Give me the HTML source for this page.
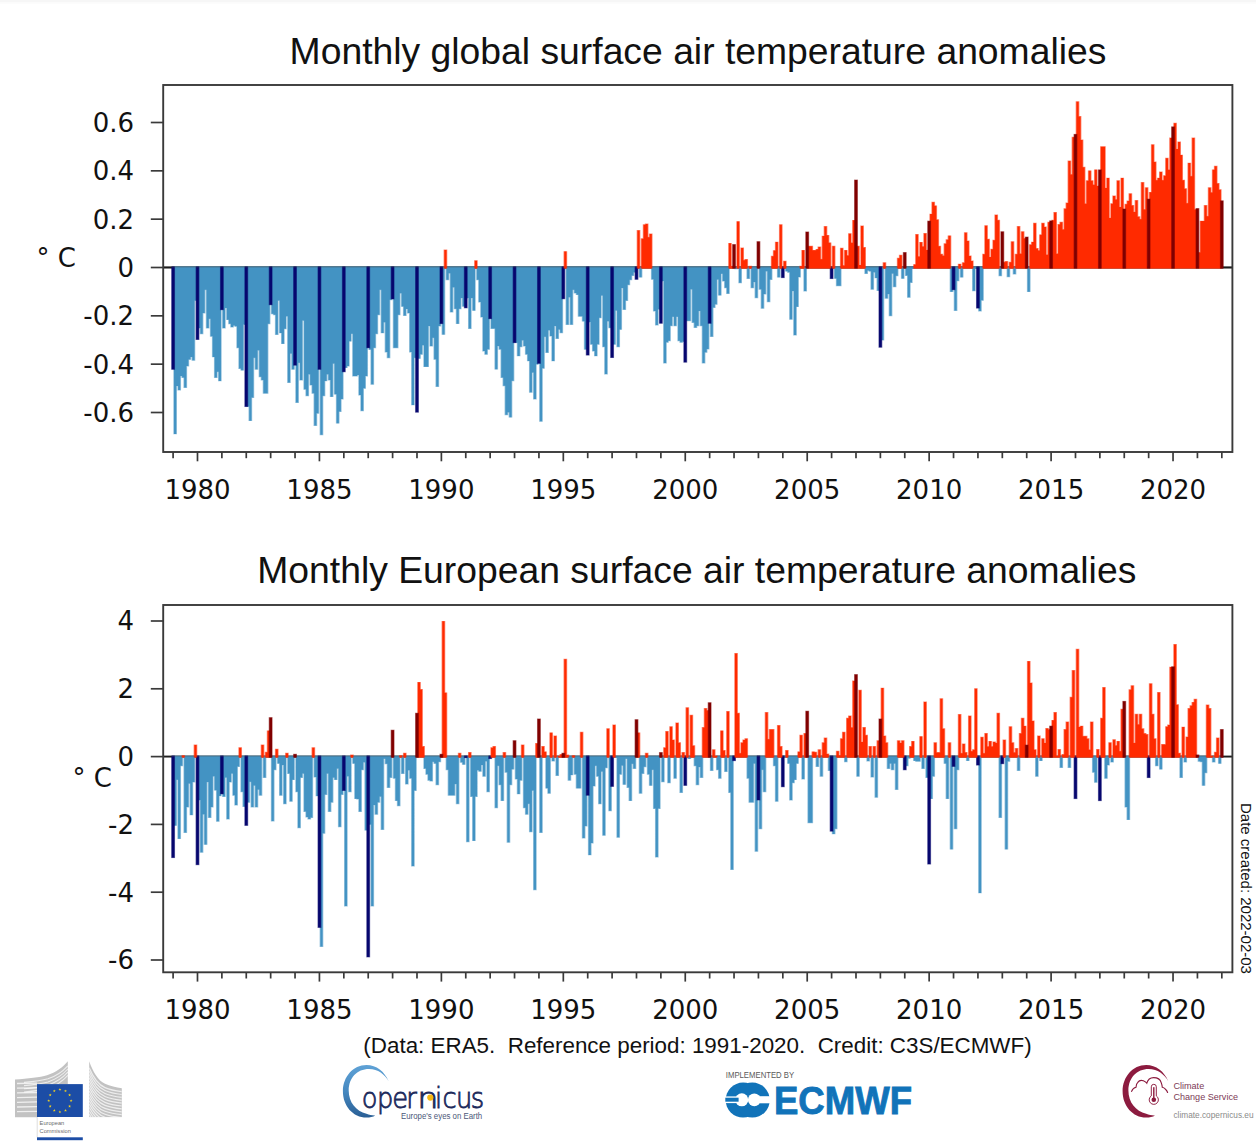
<!DOCTYPE html>
<html><head><meta charset="utf-8"><title>Monthly surface air temperature anomalies</title>
<style>
html,body{margin:0;padding:0;background:#fff}
svg{display:block}
.ax text{font-family:"DejaVu Sans","Liberation Sans",sans-serif;font-size:26px;fill:#111}
.ttl{font-family:"Liberation Sans",sans-serif;font-size:37.3px;fill:#111}
.cap{font-family:"Liberation Sans",sans-serif;font-size:22.4px;fill:#111;white-space:pre}
.deg{font-family:"DejaVu Sans","Liberation Sans",sans-serif;font-size:26px;fill:#111}
</style></head><body>
<svg width="1256" height="1147" viewBox="0 0 1256 1147" shape-rendering="auto">
<rect width="1256" height="1147" fill="#fff"/>
<rect width="1256" height="2.4" fill="#f6f6f6"/><rect y="2.4" width="1256" height="1.2" fill="#fbfbfb"/>
<text class="ttl" x="698" y="63.5" text-anchor="middle" id="t1">Monthly global surface air temperature anomalies</text>
<text class="ttl" x="696.8" y="583" text-anchor="middle" id="t2">Monthly European surface air temperature anomalies</text>
<line x1="163.2" y1="267.5" x2="1232.4" y2="267.5" stroke="#111" stroke-width="1.9"/>
<g fill="#4393c3" opacity="0.55"><path d="M173.28,266.55V434.34H175.31V434.34H176.98V386.33H177.35V390.47H179.01V390.47H179.38V390.47H181.05V376.39H181.41V378.05H183.08V378.05H183.44V387.98H185.11V387.98H185.48V387.98H187.14V366.46H187.51V366.46H189.18V359.84H189.54V359.84H191.21V357.35H191.57V360.66H193.24V360.66H193.61V360.66H195.27V301.06H197.31V266.55ZM197.67,266.55V328.38H199.70V334.17H201.37V334.17H201.74V334.17H203.40V313.48H203.77V313.48H205.44V290.30H205.80V328.38H207.47V328.38H207.83V328.38H209.50V319.27H209.87V336.66H211.53V336.66H211.90V357.35H213.57V357.35H213.93V378.05H215.60V378.05H215.96V378.05H217.63V372.25H218.00V381.36H219.66V381.36H221.70V266.55ZM222.06,266.55V328.38H224.09V328.38H225.76V308.51H226.12V320.10H227.79V320.10H228.16V324.24H229.82V324.24H230.19V327.55H231.86V327.55H232.22V327.55H233.89V325.90H234.25V326.72H235.92V326.72H236.29V348.25H237.95V348.25H238.32V368.94H239.99V368.94H240.35V370.60H242.02V370.60H242.38V370.60H244.05V325.07H246.08V266.55ZM246.45,266.55V407.02H248.48V421.09H250.15V421.09H250.51V421.09H252.18V397.92H252.55V397.92H254.21V358.18H254.58V369.77H256.25V369.77H256.61V369.77H258.28V350.73H258.64V377.22H260.31V377.22H260.68V380.53H262.34V380.53H262.71V393.78H264.38V393.78H264.74V393.78H266.41V393.78H266.77V393.78H268.44V324.24H270.47V266.55ZM270.84,266.55V314.31H272.87V315.14H274.54V315.14H274.90V335.00H276.57V335.00H276.93V335.00H278.60V301.06H278.97V333.35H280.63V333.35H281.00V344.11H282.67V344.11H283.03V344.11H284.70V329.21H285.06V329.21H286.73V316.79H287.10V383.02H288.76V383.02H289.13V383.02H290.80V354.04H291.16V369.77H292.83V369.77H294.86V266.55ZM295.23,266.55V402.88H297.26V402.88H298.93V363.15H299.29V380.53H300.96V380.53H301.32V380.53H302.99V320.93H303.36V389.64H305.02V389.64H305.39V396.26H307.06V396.26H307.42V396.26H309.09V374.74H309.45V385.50H311.12V385.50H311.49V393.78H313.15V393.78H313.52V426.06H315.19V426.06H315.55V426.06H317.22V413.64H319.25V266.55ZM319.62,266.55V435.17H321.65V435.17H323.32V396.26H323.68V396.26H325.35V381.36H325.71V381.36H327.38V374.74H327.74V380.53H329.41V380.53H329.78V397.09H331.44V397.09H331.81V397.09H333.48V363.98H333.84V394.60H335.51V394.60H335.87V423.58H337.54V423.58H337.91V423.58H339.57V411.99H339.94V411.99H341.61V399.57H343.64V266.55ZM344.00,266.55V368.11H346.04V368.11H347.70V366.46H348.07V366.46H349.74V341.62H350.10V341.62H351.77V334.17H352.13V376.39H353.80V376.39H354.17V376.39H355.83V376.39H356.20V376.39H357.87V375.56H358.23V395.43H359.90V395.43H360.26V411.16H361.93V411.16H362.30V411.16H363.96V388.81H364.33V388.81H366.00V376.39H368.03V266.55ZM368.39,266.55V349.90H370.43V384.67H372.09V384.67H372.46V384.67H374.13V348.25H374.49V348.25H376.16V334.17H376.52V334.17H378.19V315.14H378.55V315.14H380.22V290.30H380.59V333.35H382.25V333.35H382.62V333.35H384.29V322.59H384.65V352.39H386.32V352.39H386.68V358.18H388.35V358.18H388.72V358.18H390.38V300.23H392.42V266.55ZM392.78,266.55V348.25H394.81V348.25H396.48V348.25H396.85V348.25H398.51V315.14H398.88V315.14H400.55V293.61H400.91V306.86H402.58V306.86H402.94V315.96H404.61V315.96H404.98V315.96H406.64V309.34H407.01V313.48H408.68V313.48H409.04V352.39H410.71V352.39H411.07V405.37H412.74V405.37H413.11V405.37H414.77V358.18H416.81V266.55ZM417.17,266.55V358.84H419.20V358.84H420.87V354.70H421.24V354.70H422.90V345.60H423.27V367.12H424.94V367.12H425.30V367.12H426.97V367.12H427.33V367.12H429.00V326.56H429.36V346.43H431.03V346.43H431.40V346.43H433.06V338.15H433.43V359.67H435.10V359.67H435.46V386.99H437.13V386.99H437.49V386.99H439.16V326.56H441.19V266.55ZM441.56,266.55V334.84H445.26V266.55ZM445.62,266.55V280.20H447.66V280.20H449.32V273.58H449.69V312.49H451.36V312.49H451.72V312.49H453.39V287.65H453.75V309.17H455.42V309.17H455.79V324.08H457.45V324.08H457.82V324.08H459.49V309.17H459.85V309.17H461.52V298.41H461.88V306.69H463.55V306.69H465.58V266.55ZM465.95,266.55V298.41H467.98V329.04H469.65V329.04H470.01V329.04H471.68V298.41H472.05V310.83H473.71V310.83H475.75V266.55ZM476.11,266.55V280.20H478.14V302.55H479.81V302.55H480.17V317.45H481.84V317.45H482.21V351.39H483.87V351.39H484.24V354.70H485.91V354.70H486.27V354.70H487.94V349.74H489.97V266.55ZM490.34,266.55V329.04H492.37V329.04H494.04V329.04H494.40V369.60H496.07V369.60H496.43V369.60H498.10V346.43H498.47V349.74H500.13V349.74H500.50V377.88H502.17V377.88H502.53V386.16H504.20V386.16H504.56V415.13H506.23V415.13H506.60V415.13H508.26V412.65H508.63V417.62H510.30V417.62H510.66V417.62H512.33V381.19H514.36V266.55ZM514.73,266.55V343.11H516.76V356.36H518.43V356.36H518.79V356.36H520.46V347.25H520.82V347.25H522.49V340.63H522.86V346.43H524.52V346.43H524.89V354.70H526.56V354.70H526.92V361.33H528.59V361.33H528.95V392.78H530.62V392.78H530.98V392.78H532.65V372.92H533.02V399.41H534.68V399.41H535.05V399.41H536.72V364.64H538.75V266.55ZM539.11,266.55V421.76H541.15V421.76H542.81V368.78H543.18V368.78H544.85V337.32H545.21V353.05H546.88V353.05H547.24V353.05H548.91V330.70H549.28V336.49H550.94V336.49H551.31V361.33H552.98V361.33H553.34V361.33H555.01V326.56H555.37V338.98H557.04V338.98H557.41V338.98H559.07V329.87H559.44V333.18H561.11V333.18H563.14V266.55ZM565.54,266.55V324.90H567.57V324.90H569.24V297.59H569.60V324.90H571.27V324.90H571.63V324.90H573.30V290.14H573.67V293.45H575.33V293.45H575.70V295.10H577.37V295.10H577.73V316.63H579.40V316.63H579.76V316.63H581.43V316.63H581.79V321.59H583.46V321.59H583.83V349.74H585.49V349.74H587.53V266.55ZM587.89,266.55V322.42H589.92V344.77H591.59V344.77H591.96V351.39H593.62V351.39H593.99V356.36H595.66V356.36H596.02V356.36H597.69V344.77H598.05V344.77H599.72V318.28H600.09V318.28H601.75V295.93H602.12V347.25H603.79V347.25H604.15V374.57H605.82V374.57H606.18V374.57H607.85V321.59H608.22V328.21H609.88V328.21H611.92V266.55ZM612.28,266.55V344.77H614.31V344.77H615.98V310.83H616.35V347.25H618.01V347.25H618.38V347.25H620.05V329.87H620.41V329.87H622.08V288.48H622.44V310.00H624.11V310.00H624.48V310.00H626.14V300.90H626.51V300.90H628.18V285.17H628.54V285.17H630.21V280.20H630.57V280.20H632.24V276.06H632.60V276.06H634.27V272.75H636.30V266.55ZM638.70,266.55V277.62H642.40V266.55ZM650.90,266.55V279.79H652.93V311.45H654.60V311.45H654.96V325.47H656.63V325.47H656.99V325.47H658.66V309.76H660.69V266.55ZM661.06,266.55V281.53H663.09V363.48H664.76V363.48H665.12V363.48H666.79V342.78H667.16V342.78H668.82V341.13H669.19V341.13H670.86V326.23H671.22V326.23H672.89V317.12H673.25V326.23H674.92V326.23H675.29V326.23H676.95V317.12H677.32V341.13H678.99V341.13H679.35V342.78H681.02V342.78H681.38V342.78H683.05V341.96H685.08V266.55ZM685.45,266.55V321.26H687.48V321.26H689.15V321.26H689.51V321.26H691.18V289.80H691.54V322.92H693.21V322.92H693.58V327.88H695.24V327.88H695.61V327.88H697.28V326.23H697.64V326.23H699.31V311.33H699.67V326.23H701.34V326.23H701.71V363.48H703.37V363.48H703.74V363.48H705.41V352.72H705.77V352.72H707.44V349.41H709.47V266.55ZM709.84,266.55V336.99H711.87V336.99H713.54V308.02H713.90V308.02H715.57V304.70H715.93V304.70H717.60V279.87H717.97V295.60H719.63V295.60H720.00V295.60H721.67V274.08H722.03V281.53H723.70V281.53H724.06V288.15H725.73V288.15H726.10V293.94H727.76V293.94H729.80V266.55ZM734.22,266.55V269.16H737.92V266.55ZM738.29,266.55V283.18H741.99V266.55ZM746.42,266.55V279.07H750.12V266.55ZM750.48,266.55V288.25H752.52V288.25H754.18V282.45H754.55V298.16H756.22V298.16H758.25V266.55ZM758.61,266.55V289.70H760.65V308.79H762.31V308.79H762.68V308.79H764.35V294.53H764.71V294.53H766.38V271.58H766.74V302.27H768.41V302.27H768.78V302.27H770.44V280.03H772.48V266.55ZM776.91,266.55V277.62H780.61V266.55ZM785.03,266.55V271.58H787.07V272.78H788.73V272.78H789.10V319.67H790.77V319.67H791.13V319.67H792.80V291.39H793.16V335.38H794.83V335.38H795.20V335.38H796.86V307.10H797.23V307.10H798.90V277.38H800.93V266.55ZM803.33,266.55V291.39H807.03V266.55ZM833.81,266.55V278.83H835.84V286.32H837.51V286.32H837.88V286.32H839.54V286.32H841.58V266.55ZM864.30,266.55V273.99H866.33V273.99H868.00V270.85H868.36V271.58H870.03V271.58H870.40V289.70H872.06V289.70H872.43V289.70H874.10V272.78H874.46V278.34H876.13V278.34H876.49V290.91H878.16V290.91H880.19V266.55ZM880.56,266.55V340.45H884.26V266.55ZM884.62,266.55V298.64H886.65V298.64H888.32V294.53H888.69V316.28H890.35V316.28H890.72V316.28H892.39V273.99H892.75V287.28H894.42V287.28H894.78V287.28H896.45V276.17H898.48V266.55ZM900.88,266.55V278.83H904.58V266.55ZM904.95,266.55V275.93H906.98V297.68H908.65V297.68H909.01V297.68H910.68V282.93H911.04V282.93H912.71V268.92H914.74V266.55ZM949.66,266.55V292.12H953.36V266.55ZM953.72,266.55V310.97H955.76V310.97H957.42V281.24H959.46V266.55ZM959.82,266.55V277.62H963.52V266.55ZM972.02,266.55V291.15H974.05V291.15H975.72V268.68H977.75V266.55ZM978.11,266.55V311.45H980.15V311.45H981.81V300.82H983.85V266.55ZM998.44,266.55V276.17H1002.14V266.55ZM1006.57,266.55V277.13H1010.27V266.55ZM1012.66,266.55V274.48H1016.36V266.55ZM1026.89,266.55V292.12H1030.59V266.55Z"/></g><g fill="#4393c3"><path d="M174.03,266.55V433.89H176.06V433.89H176.23V385.88H178.10V390.02H178.26V390.02H180.13V390.02H180.30V375.94H182.16V377.60H182.33V377.60H184.19V387.53H184.36V387.53H186.23V387.53H186.39V366.01H188.26V366.01H188.43V359.39H190.29V359.39H190.46V356.90H192.32V360.21H192.49V360.21H194.36V360.21H194.52V300.61H196.56V266.55ZM198.42,266.55V327.93H200.45V333.72H200.62V333.72H202.49V333.72H202.65V313.03H204.52V313.03H204.69V289.85H206.55V327.93H206.72V327.93H208.58V327.93H208.75V318.82H210.62V336.21H210.78V336.21H212.65V356.90H212.82V356.90H214.68V377.60H214.85V377.60H216.71V377.60H216.88V371.80H218.75V380.91H218.91V380.91H220.95V266.55ZM222.81,266.55V327.93H224.84V327.93H225.01V308.06H226.87V319.65H227.04V319.65H228.91V323.79H229.07V323.79H230.94V327.10H231.11V327.10H232.97V327.10H233.14V325.45H235.00V326.27H235.17V326.27H237.04V347.80H237.20V347.80H239.07V368.49H239.24V368.49H241.10V370.15H241.27V370.15H243.13V370.15H243.30V324.62H245.33V266.55ZM247.20,266.55V406.57H249.23V420.64H249.40V420.64H251.26V420.64H251.43V397.47H253.30V397.47H253.46V357.73H255.33V369.32H255.50V369.32H257.36V369.32H257.53V350.28H259.39V376.77H259.56V376.77H261.43V380.08H261.59V380.08H263.46V393.33H263.63V393.33H265.49V393.33H265.66V393.33H267.52V393.33H267.69V323.79H269.72V266.55ZM271.59,266.55V313.86H273.62V314.69H273.79V314.69H275.65V334.55H275.82V334.55H277.68V334.55H277.85V300.61H279.72V332.90H279.88V332.90H281.75V343.66H281.92V343.66H283.78V343.66H283.95V328.76H285.81V328.76H285.98V316.34H287.85V382.57H288.01V382.57H289.88V382.57H290.05V353.59H291.91V369.32H292.08V369.32H294.11V266.55ZM295.98,266.55V402.43H298.01V402.43H298.18V362.70H300.04V380.08H300.21V380.08H302.07V380.08H302.24V320.48H304.11V389.19H304.27V389.19H306.14V395.81H306.31V395.81H308.17V395.81H308.34V374.29H310.20V385.05H310.37V385.05H312.24V393.33H312.40V393.33H314.27V425.61H314.44V425.61H316.30V425.61H316.47V413.19H318.50V266.55ZM320.37,266.55V434.72H322.40V434.72H322.57V395.81H324.43V395.81H324.60V380.91H326.46V380.91H326.63V374.29H328.49V380.08H328.66V380.08H330.53V396.64H330.69V396.64H332.56V396.64H332.73V363.53H334.59V394.15H334.76V394.15H336.62V423.13H336.79V423.13H338.66V423.13H338.82V411.54H340.69V411.54H340.86V399.12H342.89V266.55ZM344.75,266.55V367.66H346.79V367.66H346.95V366.01H348.82V366.01H348.99V341.17H350.85V341.17H351.02V333.72H352.88V375.94H353.05V375.94H354.92V375.94H355.08V375.94H356.95V375.94H357.12V375.11H358.98V394.98H359.15V394.98H361.01V410.71H361.18V410.71H363.05V410.71H363.21V388.36H365.08V388.36H365.25V375.94H367.28V266.55ZM369.14,266.55V349.45H371.18V384.22H371.34V384.22H373.21V384.22H373.38V347.80H375.24V347.80H375.41V333.72H377.27V333.72H377.44V314.69H379.30V314.69H379.47V289.85H381.34V332.90H381.50V332.90H383.37V332.90H383.54V322.14H385.40V351.94H385.57V351.94H387.43V357.73H387.60V357.73H389.47V357.73H389.63V299.78H391.67V266.55ZM393.53,266.55V347.80H395.56V347.80H395.73V347.80H397.60V347.80H397.76V314.69H399.63V314.69H399.80V293.16H401.66V306.41H401.83V306.41H403.69V315.51H403.86V315.51H405.73V315.51H405.89V308.89H407.76V313.03H407.93V313.03H409.79V351.94H409.96V351.94H411.82V404.92H411.99V404.92H413.86V404.92H414.02V357.73H416.06V266.55ZM417.92,266.55V358.39H419.95V358.39H420.12V354.25H421.99V354.25H422.15V345.15H424.02V366.67H424.19V366.67H426.05V366.67H426.22V366.67H428.08V366.67H428.25V326.11H430.11V345.98H430.28V345.98H432.15V345.98H432.31V337.70H434.18V359.22H434.35V359.22H436.21V386.54H436.38V386.54H438.24V386.54H438.41V326.11H440.44V266.55ZM442.31,266.55V334.39H444.51V266.55ZM446.37,266.55V279.75H448.41V279.75H448.57V273.13H450.44V312.04H450.61V312.04H452.47V312.04H452.64V287.20H454.50V308.72H454.67V308.72H456.54V323.63H456.70V323.63H458.57V323.63H458.74V308.72H460.60V308.72H460.77V297.96H462.63V306.24H462.80V306.24H464.83V266.55ZM466.70,266.55V297.96H468.73V328.59H468.90V328.59H470.76V328.59H470.93V297.96H472.80V310.38H472.96V310.38H475.00V266.55ZM476.86,266.55V279.75H478.89V302.10H479.06V302.10H480.92V317.00H481.09V317.00H482.96V350.94H483.12V350.94H484.99V354.25H485.16V354.25H487.02V354.25H487.19V349.29H489.22V266.55ZM491.09,266.55V328.59H493.12V328.59H493.29V328.59H495.15V369.15H495.32V369.15H497.18V369.15H497.35V345.98H499.22V349.29H499.38V349.29H501.25V377.43H501.42V377.43H503.28V385.71H503.45V385.71H505.31V414.68H505.48V414.68H507.35V414.68H507.51V412.20H509.38V417.17H509.55V417.17H511.41V417.17H511.58V380.74H513.61V266.55ZM515.48,266.55V342.66H517.51V355.91H517.68V355.91H519.54V355.91H519.71V346.80H521.57V346.80H521.74V340.18H523.61V345.98H523.77V345.98H525.64V354.25H525.81V354.25H527.67V360.88H527.84V360.88H529.70V392.33H529.87V392.33H531.73V392.33H531.90V372.47H533.77V398.96H533.93V398.96H535.80V398.96H535.97V364.19H538.00V266.55ZM539.86,266.55V421.31H541.90V421.31H542.06V368.33H543.93V368.33H544.10V336.87H545.96V352.60H546.13V352.60H547.99V352.60H548.16V330.25H550.03V336.04H550.19V336.04H552.06V360.88H552.23V360.88H554.09V360.88H554.26V326.11H556.12V338.53H556.29V338.53H558.16V338.53H558.32V329.42H560.19V332.73H560.36V332.73H562.39V266.55ZM566.29,266.55V324.45H568.32V324.45H568.49V297.14H570.35V324.45H570.52V324.45H572.38V324.45H572.55V289.69H574.42V293.00H574.58V293.00H576.45V294.65H576.62V294.65H578.48V316.18H578.65V316.18H580.51V316.18H580.68V316.18H582.54V321.14H582.71V321.14H584.58V349.29H584.74V349.29H586.78V266.55ZM588.64,266.55V321.97H590.67V344.32H590.84V344.32H592.71V350.94H592.87V350.94H594.74V355.91H594.91V355.91H596.77V355.91H596.94V344.32H598.80V344.32H598.97V317.83H600.84V317.83H601.00V295.48H602.87V346.80H603.04V346.80H604.90V374.12H605.07V374.12H606.93V374.12H607.10V321.14H608.97V327.76H609.13V327.76H611.17V266.55ZM613.03,266.55V344.32H615.06V344.32H615.23V310.38H617.10V346.80H617.26V346.80H619.13V346.80H619.30V329.42H621.16V329.42H621.33V288.03H623.19V309.55H623.36V309.55H625.23V309.55H625.39V300.45H627.26V300.45H627.43V284.72H629.29V284.72H629.46V279.75H631.32V279.75H631.49V275.61H633.35V275.61H633.52V272.30H635.55V266.55ZM639.45,266.55V277.17H641.65V266.55ZM651.65,266.55V279.34H653.68V311.00H653.85V311.00H655.71V325.02H655.88V325.02H657.74V325.02H657.91V309.31H659.94V266.55ZM661.81,266.55V281.08H663.84V363.03H664.01V363.03H665.87V363.03H666.04V342.33H667.91V342.33H668.07V340.68H669.94V340.68H670.11V325.78H671.97V325.78H672.14V316.67H674.00V325.78H674.17V325.78H676.04V325.78H676.20V316.67H678.07V340.68H678.24V340.68H680.10V342.33H680.27V342.33H682.13V342.33H682.30V341.51H684.33V266.55ZM686.20,266.55V320.81H688.23V320.81H688.40V320.81H690.26V320.81H690.43V289.35H692.29V322.47H692.46V322.47H694.33V327.43H694.49V327.43H696.36V327.43H696.53V325.78H698.39V325.78H698.56V310.88H700.42V325.78H700.59V325.78H702.46V363.03H702.62V363.03H704.49V363.03H704.66V352.27H706.52V352.27H706.69V348.96H708.72V266.55ZM710.59,266.55V336.54H712.62V336.54H712.79V307.57H714.65V307.57H714.82V304.25H716.68V304.25H716.85V279.42H718.72V295.15H718.88V295.15H720.75V295.15H720.92V273.63H722.78V281.08H722.95V281.08H724.81V287.70H724.98V287.70H726.85V293.49H727.01V293.49H729.05V266.55ZM734.97,266.55V268.71H737.17V266.55ZM739.04,266.55V282.73H741.24V266.55ZM747.17,266.55V278.62H749.37V266.55ZM751.23,266.55V287.80H753.27V287.80H753.43V282.00H755.30V297.71H755.47V297.71H757.50V266.55ZM759.36,266.55V289.25H761.40V308.34H761.56V308.34H763.43V308.34H763.60V294.08H765.46V294.08H765.63V271.13H767.49V301.82H767.66V301.82H769.53V301.82H769.69V279.58H771.73V266.55ZM777.66,266.55V277.17H779.86V266.55ZM785.78,266.55V271.13H787.82V272.33H787.98V272.33H789.85V319.22H790.02V319.22H791.88V319.22H792.05V290.94H793.91V334.93H794.08V334.93H795.95V334.93H796.11V306.65H797.98V306.65H798.15V276.93H800.18V266.55ZM804.08,266.55V290.94H806.28V266.55ZM834.56,266.55V278.38H836.59V285.87H836.76V285.87H838.63V285.87H838.79V285.87H840.83V266.55ZM865.05,266.55V273.54H867.08V273.54H867.25V270.40H869.11V271.13H869.28V271.13H871.15V289.25H871.31V289.25H873.18V289.25H873.35V272.33H875.21V277.89H875.38V277.89H877.24V290.46H877.41V290.46H879.44V266.55ZM881.31,266.55V340.00H883.51V266.55ZM885.37,266.55V298.19H887.40V298.19H887.57V294.08H889.44V315.83H889.60V315.83H891.47V315.83H891.64V273.54H893.50V286.83H893.67V286.83H895.53V286.83H895.70V275.72H897.73V266.55ZM901.63,266.55V278.38H903.83V266.55ZM905.70,266.55V275.48H907.73V297.23H907.90V297.23H909.76V297.23H909.93V282.48H911.79V282.48H911.96V268.47H913.99V266.55ZM950.41,266.55V291.67H952.61V266.55ZM954.47,266.55V310.52H956.51V310.52H956.67V280.79H958.71V266.55ZM960.57,266.55V277.17H962.77V266.55ZM972.77,266.55V290.70H974.80V290.70H974.97V268.23H977.00V266.55ZM978.86,266.55V311.00H980.90V311.00H981.06V300.37H983.10V266.55ZM999.19,266.55V275.72H1001.39V266.55ZM1007.32,266.55V276.68H1009.52V266.55ZM1013.41,266.55V274.03H1015.61V266.55ZM1027.64,266.55V291.67H1029.84V266.55Z"/></g>
<g fill="#06066e" opacity="0.55"><rect x="171.15" y="266.55" width="3.9" height="103.22"/><rect x="195.54" y="266.55" width="3.9" height="73.42"/><rect x="219.93" y="266.55" width="3.9" height="43.62"/><rect x="244.32" y="266.55" width="3.9" height="140.47"/><rect x="268.71" y="266.55" width="3.9" height="38.65"/><rect x="293.09" y="266.55" width="3.9" height="99.08"/><rect x="317.48" y="266.55" width="3.9" height="103.22"/><rect x="341.87" y="266.55" width="3.9" height="105.70"/><rect x="366.26" y="266.55" width="3.9" height="81.70"/><rect x="390.65" y="266.55" width="3.9" height="32.86"/><rect x="415.04" y="266.55" width="3.9" height="146.10"/><rect x="439.43" y="266.55" width="3.9" height="57.53"/><rect x="463.82" y="266.55" width="3.9" height="41.80"/><rect x="488.20" y="266.55" width="3.9" height="52.56"/><rect x="512.59" y="266.55" width="3.9" height="76.56"/><rect x="536.98" y="266.55" width="3.9" height="97.26"/><rect x="561.37" y="266.55" width="3.9" height="32.69"/><rect x="585.76" y="266.55" width="3.9" height="88.98"/><rect x="610.15" y="266.55" width="3.9" height="91.47"/><rect x="634.54" y="266.55" width="3.9" height="13.24"/><rect x="658.93" y="266.55" width="3.9" height="57.19"/><rect x="683.31" y="266.55" width="3.9" height="96.10"/><rect x="707.70" y="266.55" width="3.9" height="57.19"/><rect x="780.87" y="266.55" width="3.9" height="11.55"/><rect x="829.65" y="266.55" width="3.9" height="12.52"/><rect x="878.43" y="266.55" width="3.9" height="81.15"/><rect x="951.59" y="266.55" width="3.9" height="23.63"/><rect x="975.98" y="266.55" width="3.9" height="42.00"/></g><g fill="#06066e"><rect x="171.75" y="266.55" width="2.7" height="102.77"/><rect x="196.14" y="266.55" width="2.7" height="72.97"/><rect x="220.53" y="266.55" width="2.7" height="43.17"/><rect x="244.92" y="266.55" width="2.7" height="140.02"/><rect x="269.31" y="266.55" width="2.7" height="38.20"/><rect x="293.69" y="266.55" width="2.7" height="98.63"/><rect x="318.08" y="266.55" width="2.7" height="102.77"/><rect x="342.47" y="266.55" width="2.7" height="105.25"/><rect x="366.86" y="266.55" width="2.7" height="81.25"/><rect x="391.25" y="266.55" width="2.7" height="32.41"/><rect x="415.64" y="266.55" width="2.7" height="145.65"/><rect x="440.03" y="266.55" width="2.7" height="57.08"/><rect x="464.42" y="266.55" width="2.7" height="41.35"/><rect x="488.80" y="266.55" width="2.7" height="52.11"/><rect x="513.19" y="266.55" width="2.7" height="76.11"/><rect x="537.58" y="266.55" width="2.7" height="96.81"/><rect x="561.97" y="266.55" width="2.7" height="32.24"/><rect x="586.36" y="266.55" width="2.7" height="88.53"/><rect x="610.75" y="266.55" width="2.7" height="91.02"/><rect x="635.14" y="266.55" width="2.7" height="12.79"/><rect x="659.53" y="266.55" width="2.7" height="56.74"/><rect x="683.91" y="266.55" width="2.7" height="95.65"/><rect x="708.30" y="266.55" width="2.7" height="56.74"/><rect x="781.47" y="266.55" width="2.7" height="11.10"/><rect x="830.25" y="266.55" width="2.7" height="12.07"/><rect x="879.03" y="266.55" width="2.7" height="80.70"/><rect x="952.19" y="266.55" width="2.7" height="23.18"/><rect x="976.58" y="266.55" width="2.7" height="41.55"/></g>
<line x1="163.2" y1="266.9" x2="1232.4" y2="266.9" stroke="#4a4a4a" stroke-opacity="0.55" stroke-width="0.9"/>
<g fill="#ff2a00" opacity="0.55"><path d="M443.59,268.45V249.50H447.29V268.45ZM474.08,268.45V260.26H477.78V268.45ZM563.50,268.45V251.16H567.20V268.45ZM636.67,268.45V230.07H640.37V268.45ZM640.73,268.45V238.29H642.77V224.27H644.43V224.27H644.80V223.55H646.47V223.55H646.83V223.55H648.50V236.84H648.86V233.46H650.53V233.46H652.56V268.45ZM728.13,268.45V242.88H730.16V242.88H731.83V265.73H733.86V268.45ZM736.26,268.45V221.13H739.96V268.45ZM740.32,268.45V247.47H742.35V247.47H744.02V259.80H744.39V259.07H746.05V259.07H748.09V268.45ZM748.45,268.45V265.84H752.15V268.45ZM770.81,268.45V255.69H772.84V250.13H774.51V250.13H774.87V241.67H776.54V241.67H778.57V268.45ZM778.94,268.45V224.27H782.64V268.45ZM783.00,268.45V260.77H786.70V268.45ZM799.26,268.45V265.84H801.29V249.89H802.96V249.89H804.99V268.45ZM807.39,268.45V245.78H809.42V245.78H811.09V245.78H811.46V245.78H813.12V249.89H813.49V249.89H815.16V249.89H815.52V248.92H817.19V248.92H817.55V246.51H819.22V246.51H819.59V246.51H821.25V258.83H821.62V235.63H823.29V235.63H823.65V225.97H825.32V225.97H825.68V225.97H827.35V234.91H827.72V234.91H829.38V242.40H831.42V268.45ZM831.78,268.45V245.78H835.48V268.45ZM839.91,268.45V247.72H841.94V247.72H843.61V265.12H843.97V249.89H845.64V249.89H846.01V249.89H847.67V254.97H848.04V233.22H849.71V233.22H850.07V233.22H851.74V242.40H852.10V219.92H853.77V219.92H855.80V268.45ZM856.17,268.45V245.78H858.20V245.78H859.87V264.63H860.23V225.48H861.90V225.48H862.27V225.48H863.93V246.99H865.97V268.45ZM882.59,268.45V262.22H886.29V268.45ZM896.82,268.45V257.87H898.85V254.72H900.52V254.72H902.55V268.45ZM913.08,268.45V264.15H915.11V233.94H916.78V233.94H917.14V233.94H918.81V255.93H919.17V241.92H920.84V241.92H921.21V241.92H922.87V246.02H923.24V232.97H924.91V232.97H925.27V232.97H926.94V249.65H928.97V268.45ZM929.34,268.45V213.64H931.37V201.80H933.04V201.80H933.40V201.80H935.07V205.42H935.43V205.42H937.10V219.20H937.46V219.20H939.13V245.78H939.50V245.78H941.16V253.76H941.53V253.76H943.20V255.21H943.56V243.37H945.23V243.37H945.59V239.26H947.26V239.26H947.63V235.39H949.29V235.39H951.33V268.45ZM957.79,268.45V263.67H961.49V268.45ZM961.85,268.45V262.22H963.89V232.25H965.55V232.25H965.92V232.25H967.59V240.47H967.95V240.47H969.62V255.45H969.98V255.45H971.65V260.52H973.68V268.45ZM982.18,268.45V253.76H984.21V225.24H985.88V225.24H986.24V225.24H987.91V238.77H988.27V238.77H989.94V256.66H990.31V248.68H991.97V248.68H992.34V239.74H994.01V239.74H994.37V214.61H996.04V214.61H996.40V214.61H998.07V219.68H1000.10V268.45ZM1002.50,268.45V261.73H1004.53V261.01H1006.20V261.01H1008.23V268.45ZM1008.60,268.45V261.73H1010.63V241.19H1012.30V241.19H1014.33V268.45ZM1014.70,268.45V253.76H1016.73V225.97H1018.40V225.97H1018.76V225.97H1020.43V253.27H1020.79V231.28H1022.46V231.28H1022.83V231.28H1024.49V238.05H1026.53V268.45ZM1028.92,268.45V244.33H1030.96V241.67H1032.62V241.67H1032.99V222.82H1034.66V222.82H1035.02V222.82H1036.69V247.96H1037.05V247.96H1038.72V250.13H1039.08V234.42H1040.75V234.42H1041.12V222.82H1042.78V222.82H1043.15V222.82H1044.82V226.45H1045.18V226.45H1046.85V254.24H1047.21V221.86H1048.88V221.86H1050.91V268.45ZM1051.28,268.45V219.68H1053.31V211.95H1054.98V211.95H1055.34V211.95H1057.01V253.27H1057.38V224.03H1059.04V224.03H1059.41V221.86H1061.08V221.86H1061.44V221.86H1063.11V229.11H1063.47V208.32H1065.14V208.32H1065.51V202.52H1067.17V202.52H1067.54V160.47H1069.21V160.47H1069.57V160.47H1071.24V174.01H1071.60V136.79H1073.27V136.79H1075.30V268.45ZM1075.67,268.45V101.26H1077.70V101.26H1079.37V116.01H1079.73V116.01H1081.40V139.45H1081.77V139.45H1083.43V166.76H1083.80V166.76H1085.47V203.25H1085.83V180.29H1087.50V180.29H1087.86V170.38H1089.53V170.38H1089.89V170.38H1091.56V180.29H1091.93V180.29H1093.59V184.40H1093.96V169.42H1095.63V169.42H1095.99V169.42H1097.66V185.61H1099.69V268.45ZM1100.06,268.45V146.21H1102.09V146.21H1103.76V146.21H1104.12V146.21H1105.79V187.54H1106.15V177.63H1107.82V177.63H1108.19V177.63H1109.85V217.51H1110.22V203.25H1111.89V203.25H1112.25V195.52H1113.92V195.52H1114.28V195.52H1115.95V199.14H1116.32V180.29H1117.98V180.29H1118.35V180.29H1120.02V206.63H1120.38V177.63H1122.05V177.63H1124.08V268.45ZM1124.45,268.45V203.73H1126.48V200.59H1128.15V200.59H1128.51V193.34H1130.18V193.34H1130.54V193.34H1132.21V204.94H1132.58V204.94H1134.24V211.47H1134.61V200.11H1136.28V200.11H1136.64V200.11H1138.31V216.30H1138.67V216.30H1140.34V218.72H1140.70V181.98H1142.37V181.98H1142.74V181.98H1144.40V209.05H1144.77V187.30H1146.44V187.30H1148.47V268.45ZM1148.83,268.45V191.89H1150.87V144.28H1152.53V144.28H1152.90V144.28H1154.57V161.44H1154.93V161.44H1156.60V179.81H1156.96V177.63H1158.63V177.63H1159.00V171.59H1160.66V171.59H1161.03V171.59H1162.70V179.81H1163.06V175.22H1164.73V175.22H1165.09V157.82H1166.76V157.82H1167.13V157.82H1168.79V169.42H1169.16V137.51H1170.83V137.51H1172.86V268.45ZM1173.22,268.45V122.77H1175.26V122.77H1176.92V148.63H1177.29V141.62H1178.96V141.62H1179.32V141.62H1180.99V154.67H1181.35V154.67H1183.02V179.81H1183.39V179.81H1185.05V188.27H1185.42V188.27H1187.09V202.77H1187.45V162.65H1189.12V162.65H1189.48V162.65H1191.15V175.70H1191.51V137.51H1193.18V137.51H1193.55V137.51H1195.21V209.05H1197.25V268.45ZM1197.61,268.45V252.07H1199.64V220.65H1201.31V220.65H1201.68V220.65H1203.34V220.65H1203.71V204.94H1205.38V204.94H1205.74V204.94H1207.41V215.82H1207.77V187.30H1209.44V187.30H1209.81V187.30H1211.47V192.13H1211.84V169.42H1213.51V169.42H1213.87V165.79H1215.54V165.79H1215.90V165.79H1217.57V182.95H1217.94V182.95H1219.60V189.23H1221.64V268.45Z"/></g><g fill="#ff2a00"><path d="M444.34,268.45V249.95H446.54V268.45ZM474.83,268.45V260.71H477.03V268.45ZM564.25,268.45V251.61H566.45V268.45ZM637.42,268.45V230.52H639.62V268.45ZM641.48,268.45V238.74H643.52V224.72H643.68V224.72H645.55V224.00H645.72V224.00H647.58V224.00H647.75V237.29H649.61V233.91H649.78V233.91H651.81V268.45ZM728.88,268.45V243.33H730.91V243.33H731.08V266.18H733.11V268.45ZM737.01,268.45V221.58H739.21V268.45ZM741.07,268.45V247.92H743.10V247.92H743.27V260.25H745.14V259.52H745.30V259.52H747.34V268.45ZM749.20,268.45V266.29H751.40V268.45ZM771.56,268.45V256.14H773.59V250.58H773.76V250.58H775.62V242.12H775.79V242.12H777.82V268.45ZM779.69,268.45V224.72H781.89V268.45ZM783.75,268.45V261.22H785.95V268.45ZM800.01,268.45V266.29H802.04V250.34H802.21V250.34H804.24V268.45ZM808.14,268.45V246.23H810.17V246.23H810.34V246.23H812.21V246.23H812.37V250.34H814.24V250.34H814.41V250.34H816.27V249.37H816.44V249.37H818.30V246.96H818.47V246.96H820.34V246.96H820.50V259.28H822.37V236.08H822.54V236.08H824.40V226.42H824.57V226.42H826.43V226.42H826.60V235.36H828.47V235.36H828.63V242.85H830.67V268.45ZM832.53,268.45V246.23H834.73V268.45ZM840.66,268.45V248.17H842.69V248.17H842.86V265.57H844.72V250.34H844.89V250.34H846.76V250.34H846.92V255.42H848.79V233.67H848.96V233.67H850.82V233.67H850.99V242.85H852.85V220.37H853.02V220.37H855.05V268.45ZM856.92,268.45V246.23H858.95V246.23H859.12V265.08H860.98V225.93H861.15V225.93H863.02V225.93H863.18V247.44H865.22V268.45ZM883.34,268.45V262.67H885.54V268.45ZM897.57,268.45V258.32H899.60V255.17H899.77V255.17H901.80V268.45ZM913.83,268.45V264.60H915.86V234.39H916.03V234.39H917.89V234.39H918.06V256.38H919.92V242.37H920.09V242.37H921.96V242.37H922.12V246.47H923.99V233.42H924.16V233.42H926.02V233.42H926.19V250.10H928.22V268.45ZM930.09,268.45V214.09H932.12V202.25H932.29V202.25H934.15V202.25H934.32V205.87H936.18V205.87H936.35V219.65H938.21V219.65H938.38V246.23H940.25V246.23H940.41V254.21H942.28V254.21H942.45V255.66H944.31V243.82H944.48V243.82H946.34V239.71H946.51V239.71H948.38V235.84H948.54V235.84H950.58V268.45ZM958.54,268.45V264.12H960.74V268.45ZM962.60,268.45V262.67H964.64V232.70H964.80V232.70H966.67V232.70H966.84V240.92H968.70V240.92H968.87V255.90H970.73V255.90H970.90V260.97H972.93V268.45ZM982.93,268.45V254.21H984.96V225.69H985.13V225.69H986.99V225.69H987.16V239.22H989.02V239.22H989.19V257.11H991.06V249.13H991.22V249.13H993.09V240.19H993.26V240.19H995.12V215.06H995.29V215.06H997.15V215.06H997.32V220.13H999.35V268.45ZM1003.25,268.45V262.18H1005.28V261.46H1005.45V261.46H1007.48V268.45ZM1009.35,268.45V262.18H1011.38V241.64H1011.55V241.64H1013.58V268.45ZM1015.45,268.45V254.21H1017.48V226.42H1017.65V226.42H1019.51V226.42H1019.68V253.72H1021.54V231.73H1021.71V231.73H1023.58V231.73H1023.74V238.50H1025.78V268.45ZM1029.67,268.45V244.78H1031.71V242.12H1031.87V242.12H1033.74V223.27H1033.91V223.27H1035.77V223.27H1035.94V248.41H1037.80V248.41H1037.97V250.58H1039.83V234.87H1040.00V234.87H1041.87V223.27H1042.03V223.27H1043.90V223.27H1044.07V226.90H1045.93V226.90H1046.10V254.69H1047.96V222.31H1048.13V222.31H1050.16V268.45ZM1052.03,268.45V220.13H1054.06V212.40H1054.23V212.40H1056.09V212.40H1056.26V253.72H1058.13V224.48H1058.29V224.48H1060.16V222.31H1060.33V222.31H1062.19V222.31H1062.36V229.56H1064.22V208.77H1064.39V208.77H1066.26V202.97H1066.42V202.97H1068.29V160.92H1068.46V160.92H1070.32V160.92H1070.49V174.46H1072.35V137.24H1072.52V137.24H1074.55V268.45ZM1076.42,268.45V101.71H1078.45V101.71H1078.62V116.46H1080.48V116.46H1080.65V139.90H1082.52V139.90H1082.68V167.21H1084.55V167.21H1084.72V203.70H1086.58V180.74H1086.75V180.74H1088.61V170.83H1088.78V170.83H1090.64V170.83H1090.81V180.74H1092.68V180.74H1092.84V184.85H1094.71V169.87H1094.88V169.87H1096.74V169.87H1096.91V186.06H1098.94V268.45ZM1100.81,268.45V146.66H1102.84V146.66H1103.01V146.66H1104.87V146.66H1105.04V187.99H1106.90V178.08H1107.07V178.08H1108.94V178.08H1109.10V217.96H1110.97V203.70H1111.14V203.70H1113.00V195.97H1113.17V195.97H1115.03V195.97H1115.20V199.59H1117.07V180.74H1117.23V180.74H1119.10V180.74H1119.27V207.08H1121.13V178.08H1121.30V178.08H1123.33V268.45ZM1125.20,268.45V204.18H1127.23V201.04H1127.40V201.04H1129.26V193.79H1129.43V193.79H1131.29V193.79H1131.46V205.39H1133.33V205.39H1133.49V211.92H1135.36V200.56H1135.53V200.56H1137.39V200.56H1137.56V216.75H1139.42V216.75H1139.59V219.17H1141.45V182.43H1141.62V182.43H1143.49V182.43H1143.65V209.50H1145.52V187.75H1145.69V187.75H1147.72V268.45ZM1149.58,268.45V192.34H1151.62V144.73H1151.78V144.73H1153.65V144.73H1153.82V161.89H1155.68V161.89H1155.85V180.26H1157.71V178.08H1157.88V178.08H1159.75V172.04H1159.91V172.04H1161.78V172.04H1161.95V180.26H1163.81V175.67H1163.98V175.67H1165.84V158.27H1166.01V158.27H1167.88V158.27H1168.04V169.87H1169.91V137.96H1170.08V137.96H1172.11V268.45ZM1173.97,268.45V123.22H1176.01V123.22H1176.17V149.08H1178.04V142.07H1178.21V142.07H1180.07V142.07H1180.24V155.12H1182.10V155.12H1182.27V180.26H1184.14V180.26H1184.30V188.72H1186.17V188.72H1186.34V203.22H1188.20V163.10H1188.37V163.10H1190.23V163.10H1190.40V176.15H1192.26V137.96H1192.43V137.96H1194.30V137.96H1194.46V209.50H1196.50V268.45ZM1198.36,268.45V252.52H1200.39V221.10H1200.56V221.10H1202.43V221.10H1202.59V221.10H1204.46V205.39H1204.63V205.39H1206.49V205.39H1206.66V216.27H1208.52V187.75H1208.69V187.75H1210.56V187.75H1210.72V192.58H1212.59V169.87H1212.76V169.87H1214.62V166.24H1214.79V166.24H1216.65V166.24H1216.82V183.40H1218.69V183.40H1218.85V189.68H1220.89V268.45Z"/></g>
<g fill="#800000" opacity="0.55"><rect x="732.09" y="244.09" width="3.9" height="24.36"/><rect x="756.48" y="241.19" width="3.9" height="27.26"/><rect x="805.26" y="231.52" width="3.9" height="36.93"/><rect x="854.04" y="179.57" width="3.9" height="88.88"/><rect x="902.81" y="252.07" width="3.9" height="16.38"/><rect x="927.20" y="220.65" width="3.9" height="47.80"/><rect x="1000.37" y="231.28" width="3.9" height="37.17"/><rect x="1024.76" y="236.60" width="3.9" height="31.85"/><rect x="1049.15" y="220.41" width="3.9" height="48.04"/><rect x="1073.54" y="133.89" width="3.9" height="134.56"/><rect x="1097.92" y="169.42" width="3.9" height="99.03"/><rect x="1122.31" y="208.57" width="3.9" height="59.88"/><rect x="1146.70" y="198.66" width="3.9" height="69.79"/><rect x="1171.09" y="126.40" width="3.9" height="142.05"/><rect x="1195.48" y="208.08" width="3.9" height="60.37"/><rect x="1219.87" y="200.35" width="3.9" height="68.10"/></g><g fill="#800000"><rect x="732.69" y="244.54" width="2.7" height="23.91"/><rect x="757.08" y="241.64" width="2.7" height="26.81"/><rect x="805.86" y="231.97" width="2.7" height="36.48"/><rect x="854.64" y="180.02" width="2.7" height="88.43"/><rect x="903.41" y="252.52" width="2.7" height="15.93"/><rect x="927.80" y="221.10" width="2.7" height="47.35"/><rect x="1000.97" y="231.73" width="2.7" height="36.72"/><rect x="1025.36" y="237.05" width="2.7" height="31.40"/><rect x="1049.75" y="220.86" width="2.7" height="47.59"/><rect x="1074.14" y="134.34" width="2.7" height="134.11"/><rect x="1098.52" y="169.87" width="2.7" height="98.58"/><rect x="1122.91" y="209.02" width="2.7" height="59.43"/><rect x="1147.30" y="199.11" width="2.7" height="69.34"/><rect x="1171.69" y="126.85" width="2.7" height="141.60"/><rect x="1196.08" y="208.53" width="2.7" height="59.92"/><rect x="1220.47" y="200.80" width="2.7" height="67.65"/></g>
<rect x="163.2" y="85" width="1069.2" height="367" fill="none" stroke="#3a3a3a" stroke-width="1.9"/>
<g stroke="#3a3a3a" stroke-width="1.7"><line x1="150.79999999999998" y1="122.50" x2="163.2" y2="122.50"/><line x1="150.79999999999998" y1="170.83" x2="163.2" y2="170.83"/><line x1="150.79999999999998" y1="219.17" x2="163.2" y2="219.17"/><line x1="150.79999999999998" y1="267.50" x2="163.2" y2="267.50"/><line x1="150.79999999999998" y1="315.83" x2="163.2" y2="315.83"/><line x1="150.79999999999998" y1="364.17" x2="163.2" y2="364.17"/><line x1="150.79999999999998" y1="412.50" x2="163.2" y2="412.50"/><line x1="173.10" y1="452" x2="173.10" y2="458.2"/><line x1="197.49" y1="452" x2="197.49" y2="461.3"/><line x1="221.88" y1="452" x2="221.88" y2="458.2"/><line x1="246.27" y1="452" x2="246.27" y2="458.2"/><line x1="270.66" y1="452" x2="270.66" y2="458.2"/><line x1="295.04" y1="452" x2="295.04" y2="458.2"/><line x1="319.43" y1="452" x2="319.43" y2="461.3"/><line x1="343.82" y1="452" x2="343.82" y2="458.2"/><line x1="368.21" y1="452" x2="368.21" y2="458.2"/><line x1="392.60" y1="452" x2="392.60" y2="458.2"/><line x1="416.99" y1="452" x2="416.99" y2="458.2"/><line x1="441.38" y1="452" x2="441.38" y2="461.3"/><line x1="465.77" y1="452" x2="465.77" y2="458.2"/><line x1="490.15" y1="452" x2="490.15" y2="458.2"/><line x1="514.54" y1="452" x2="514.54" y2="458.2"/><line x1="538.93" y1="452" x2="538.93" y2="458.2"/><line x1="563.32" y1="452" x2="563.32" y2="461.3"/><line x1="587.71" y1="452" x2="587.71" y2="458.2"/><line x1="612.10" y1="452" x2="612.10" y2="458.2"/><line x1="636.49" y1="452" x2="636.49" y2="458.2"/><line x1="660.88" y1="452" x2="660.88" y2="458.2"/><line x1="685.26" y1="452" x2="685.26" y2="461.3"/><line x1="709.65" y1="452" x2="709.65" y2="458.2"/><line x1="734.04" y1="452" x2="734.04" y2="458.2"/><line x1="758.43" y1="452" x2="758.43" y2="458.2"/><line x1="782.82" y1="452" x2="782.82" y2="458.2"/><line x1="807.21" y1="452" x2="807.21" y2="461.3"/><line x1="831.60" y1="452" x2="831.60" y2="458.2"/><line x1="855.99" y1="452" x2="855.99" y2="458.2"/><line x1="880.38" y1="452" x2="880.38" y2="458.2"/><line x1="904.76" y1="452" x2="904.76" y2="458.2"/><line x1="929.15" y1="452" x2="929.15" y2="461.3"/><line x1="953.54" y1="452" x2="953.54" y2="458.2"/><line x1="977.93" y1="452" x2="977.93" y2="458.2"/><line x1="1002.32" y1="452" x2="1002.32" y2="458.2"/><line x1="1026.71" y1="452" x2="1026.71" y2="458.2"/><line x1="1051.10" y1="452" x2="1051.10" y2="461.3"/><line x1="1075.49" y1="452" x2="1075.49" y2="458.2"/><line x1="1099.87" y1="452" x2="1099.87" y2="458.2"/><line x1="1124.26" y1="452" x2="1124.26" y2="458.2"/><line x1="1148.65" y1="452" x2="1148.65" y2="458.2"/><line x1="1173.04" y1="452" x2="1173.04" y2="461.3"/><line x1="1197.43" y1="452" x2="1197.43" y2="458.2"/><line x1="1221.82" y1="452" x2="1221.82" y2="458.2"/></g>
<g class="ax"><text x="134" y="131.90" text-anchor="end">0.6</text><text x="134" y="180.23" text-anchor="end">0.4</text><text x="134" y="228.57" text-anchor="end">0.2</text><text x="134" y="276.90" text-anchor="end">0</text><text x="134" y="325.23" text-anchor="end">-0.2</text><text x="134" y="373.57" text-anchor="end">-0.4</text><text x="134" y="421.90" text-anchor="end">-0.6</text><text x="197.49" y="498.6" text-anchor="middle">1980</text><text x="319.43" y="498.6" text-anchor="middle">1985</text><text x="441.38" y="498.6" text-anchor="middle">1990</text><text x="563.32" y="498.6" text-anchor="middle">1995</text><text x="685.26" y="498.6" text-anchor="middle">2000</text><text x="807.21" y="498.6" text-anchor="middle">2005</text><text x="929.15" y="498.6" text-anchor="middle">2010</text><text x="1051.10" y="498.6" text-anchor="middle">2015</text><text x="1173.04" y="498.6" text-anchor="middle">2020</text></g>
<text class="deg" x="36.6" y="266.8" id="d1">° C</text>
<line x1="163.2" y1="756.6" x2="1232.4" y2="756.6" stroke="#111" stroke-width="1.9"/>
<g fill="#4393c3" opacity="0.55"><path d="M173.28,755.65V825.87H175.31V825.87H176.98V780.10H177.35V839.09H179.01V839.09H179.38V839.09H181.05V766.20H183.08V755.65ZM183.44,755.65V832.99H185.48V832.99H187.14V807.56H187.51V807.56H189.18V783.83H189.54V815.36H191.21V815.36H191.57V815.36H193.24V782.48H195.27V755.65ZM197.67,755.65V800.44H199.70V852.65H201.37V852.65H201.74V852.65H203.40V814.68H203.77V844.85H205.44V844.85H205.80V844.85H207.47V782.48H207.83V818.07H209.50V818.07H209.87V818.07H211.53V807.56H211.90V807.56H213.57V776.71H213.93V790.61H215.60V790.61H215.96V821.80H217.63V821.80H218.00V821.80H219.66V796.37H221.70V755.65ZM222.06,755.65V797.05H224.09V797.05H225.76V778.07H226.12V819.43H227.79V819.43H228.16V819.43H229.82V782.48H230.19V782.48H231.86V774.00H232.22V795.70H233.89V795.70H234.25V805.53H235.92V805.53H236.29V805.53H237.95V766.88H239.99V755.65ZM240.35,755.65V792.31H242.38V806.88H244.05V806.88H246.08V755.65ZM246.45,755.65V802.81H248.48V802.81H250.15V782.14H250.51V807.56H252.18V807.56H252.55V807.56H254.21V785.87H254.58V807.56H256.25V807.56H256.61V807.56H258.28V789.93H258.64V795.70H260.31V795.70H262.34V755.65ZM262.71,755.65V778.07H266.41V755.65ZM270.84,755.65V821.46H272.87V821.46H274.54V770.27H276.57V755.65ZM276.93,755.65V763.83H278.97V795.70H280.63V795.70H281.00V795.70H282.67V765.52H283.03V804.17H284.70V804.17H286.73V755.65ZM287.10,755.65V774.00H289.13V801.80H290.80V801.80H291.16V801.80H292.83V780.10H294.86V755.65ZM295.23,755.65V792.31H297.26V828.24H298.93V828.24H299.29V828.24H300.96V778.07H301.32V778.07H302.99V774.00H303.36V811.97H305.02V811.97H305.39V817.39H307.06V817.39H307.42V819.43H309.09V819.43H309.45V819.43H311.12V818.07H313.15V755.65ZM313.52,755.65V777.39H315.55V796.37H317.22V796.37H319.25V755.65ZM319.62,755.65V946.89H321.65V946.89H323.32V833.66H323.68V833.66H325.35V795.02H325.71V795.02H327.38V774.00H327.74V811.97H329.41V811.97H329.78V811.97H331.44V802.81H331.81V802.81H333.48V778.07H333.84V780.10H335.51V780.10H335.87V780.10H337.54V768.91H337.91V827.22H339.57V827.22H339.94V827.22H341.61V795.02H343.64V755.65ZM344.00,755.65V906.55H346.04V906.55H347.70V776.71H348.07V792.31H349.74V792.31H351.77V755.65ZM352.13,755.65V763.83H354.17V799.09H355.83V799.09H356.20V799.42H357.87V799.42H358.23V811.97H359.90V811.97H360.26V811.97H361.93V770.27H362.30V770.27H363.96V762.81H364.33V830.61H366.00V830.61H368.03V755.65ZM368.39,755.65V824.85H370.43V906.55H372.09V906.55H372.46V906.55H374.13V805.53H374.49V814.68H376.16V814.68H376.52V814.68H378.19V802.81H378.55V802.81H380.22V797.05H380.59V829.93H382.25V829.93H382.62V829.93H384.29V759.08H384.65V764.17H386.32V764.17H386.68V787.90H388.35V787.90H388.72V787.90H390.38V778.07H392.42V755.65ZM392.78,755.65V778.75H394.81V801.12H396.48V801.12H396.85V806.20H398.51V806.20H400.55V755.65ZM400.91,755.65V774.00H404.61V755.65ZM404.98,755.65V784.51H407.01V784.51H408.68V770.61H409.04V778.75H410.71V778.75H411.07V866.55H412.74V866.55H413.11V866.55H414.77V790.95H416.81V755.65ZM423.27,755.65V768.91H425.30V774.68H426.97V774.68H427.33V780.78H429.00V780.78H429.36V781.46H431.03V781.46H431.40V781.46H433.06V762.13H433.43V763.83H435.10V763.83H435.46V785.19H437.13V785.19H437.49V785.19H439.16V762.13H441.19V755.65ZM445.62,755.65V770.27H447.66V795.70H449.32V795.70H449.69V795.70H451.36V795.70H451.72V795.70H453.39V795.70H453.75V795.70H455.42V784.51H455.79V804.17H457.45V804.17H459.49V755.65ZM459.85,755.65V762.81H461.88V764.85H463.55V764.85H465.58V755.65ZM465.95,755.65V842.14H469.65V755.65ZM470.01,755.65V797.05H472.05V841.12H473.71V841.12H474.08V841.12H475.75V797.05H476.11V797.05H477.78V770.61H478.14V771.63H479.81V771.63H480.17V771.63H481.84V765.52H482.21V776.71H483.87V776.71H484.24V776.71H485.91V761.80H486.27V792.31H487.94V792.31H489.97V755.65ZM494.40,755.65V808.24H496.43V808.24H498.10V766.20H498.47V785.19H500.13V785.19H500.50V801.12H502.17V801.12H504.20V755.65ZM504.56,755.65V772.64H506.60V842.82H508.26V842.82H508.63V842.82H510.30V785.19H510.66V785.19H512.33V769.59H514.36V755.65ZM514.73,755.65V779.42H516.76V794.34H518.43V794.34H518.79V794.34H520.46V780.78H522.49V755.65ZM522.86,755.65V808.24H524.89V814.68H526.56V814.68H526.92V814.68H528.59V804.17H528.95V832.31H530.62V832.31H530.98V832.31H532.65V790.95H533.02V890.28H534.68V890.28H536.72V755.65ZM539.11,755.65V832.99H542.81V755.65ZM545.21,755.65V788.58H547.24V793.66H548.91V793.66H550.94V755.65ZM551.31,755.65V761.46H555.01V755.65ZM555.37,755.65V776.03H559.07V755.65ZM567.57,755.65V780.78H569.60V780.78H571.27V775.36H573.30V755.65ZM573.67,755.65V774.68H575.70V788.58H577.37V788.58H577.73V788.58H579.40V788.58H581.43V755.65ZM581.79,755.65V838.41H583.83V838.41H585.49V826.54H587.53V755.65ZM587.89,755.65V855.36H589.92V855.36H591.59V843.50H591.96V843.50H593.62V786.54H593.99V786.54H595.66V766.20H596.02V776.71H597.69V776.71H598.05V804.17H599.72V804.17H600.09V804.17H601.75V771.97H602.12V835.70H603.79V835.70H604.15V835.70H605.82V768.24H607.85V755.65ZM608.22,755.65V811.29H611.92V755.65ZM614.31,755.65V758.07H616.35V837.73H618.01V837.73H618.38V837.73H620.05V774.68H620.41V774.68H622.08V765.86H622.44V784.85H624.11V784.85H624.48V784.85H626.14V759.08H626.51V787.90H628.18V787.90H628.54V801.12H630.21V801.12H630.57V801.12H632.24V764.17H632.60V768.91H634.27V768.91H636.30V755.65ZM638.70,755.65V793.66H640.73V793.66H642.40V774.00H642.77V774.00H644.43V767.22H646.47V755.65ZM646.83,755.65V774.68H648.86V785.87H650.53V785.87H650.90V785.87H652.56V770.27H652.93V808.92H654.60V808.92H654.96V857.39H656.63V857.39H656.99V857.39H658.66V808.92H660.69V755.65ZM661.06,755.65V782.14H664.76V755.65ZM667.16,755.65V783.15H670.86V755.65ZM673.25,755.65V778.75H676.95V755.65ZM679.35,755.65V792.98H683.05V755.65ZM687.48,755.65V759.08H691.18V755.65ZM693.58,755.65V766.20H695.61V785.19H697.28V785.19H697.64V785.19H699.31V767.56H699.67V778.07H701.34V778.07H703.37V755.65ZM709.84,755.65V770.95H713.54V755.65ZM715.93,755.65V770.27H717.97V778.75H719.63V778.75H721.67V755.65ZM724.06,755.65V771.97H727.76V755.65ZM728.13,755.65V792.98H730.16V869.94H731.83V869.94H733.86V755.65ZM746.42,755.65V778.75H748.45V802.81H750.12V802.81H750.48V802.81H752.15V802.81H752.52V802.81H754.18V763.83H754.55V851.63H756.22V851.63H758.25V755.65ZM758.61,755.65V829.26H760.65V829.26H762.31V770.27H762.68V792.31H764.35V792.31H766.38V755.65ZM772.84,755.65V766.20H774.87V801.80H776.54V801.80H778.57V755.65ZM783.00,755.65V758.07H786.70V755.65ZM787.07,755.65V763.83H789.10V800.44H790.77V800.44H791.13V800.44H792.80V783.15H793.16V783.15H794.83V780.10H795.20V780.10H796.86V763.83H798.90V755.65ZM801.29,755.65V779.42H804.99V755.65ZM807.39,755.65V823.15H809.42V823.15H811.09V823.15H813.12V755.65ZM815.52,755.65V766.88H819.22V755.65ZM819.59,755.65V776.71H823.29V755.65ZM827.72,755.65V770.95H831.42V755.65ZM831.78,755.65V834.34H833.81V834.34H835.48V829.26H837.51V755.65ZM843.97,755.65V762.13H847.67V755.65ZM856.17,755.65V776.71H859.87V755.65ZM866.33,755.65V761.46H870.03V755.65ZM870.40,755.65V777.39H874.10V755.65ZM874.46,755.65V797.73H878.16V755.65ZM886.65,755.65V768.91H888.69V768.91H890.35V763.83H890.72V770.27H892.39V770.27H892.75V770.27H894.42V763.83H894.78V789.93H896.45V789.93H898.48V755.65ZM904.95,755.65V766.20H906.98V766.20H908.65V758.75H910.68V755.65ZM913.08,755.65V761.12H915.11V761.80H916.78V761.80H917.14V761.80H918.81V761.80H920.84V755.65ZM921.21,755.65V768.91H924.91V755.65ZM925.27,755.65V778.07H928.97V755.65ZM929.34,755.65V799.09H931.37V799.09H933.04V776.71H935.07V755.65ZM943.56,755.65V763.83H945.59V799.09H947.26V799.09H949.29V755.65ZM949.66,755.65V849.60H953.36V755.65ZM953.72,755.65V829.26H955.76V829.26H957.42V770.27H959.46V755.65ZM965.92,755.65V761.12H969.62V755.65ZM978.11,755.65V893.33H981.81V755.65ZM998.44,755.65V818.07H1002.14V755.65ZM1004.53,755.65V849.60H1006.57V849.60H1008.23V761.80H1010.27V755.65ZM1016.73,755.65V770.95H1020.43V755.65ZM1035.02,755.65V776.71H1038.72V755.65ZM1039.08,755.65V761.12H1042.78V755.65ZM1059.41,755.65V767.90H1063.11V755.65ZM1067.54,755.65V767.90H1071.24V755.65ZM1091.93,755.65V772.64H1093.96V782.81H1095.63V782.81H1097.66V755.65ZM1104.12,755.65V778.75H1106.15V778.75H1107.82V765.52H1109.85V755.65ZM1110.22,755.65V762.47H1113.92V755.65ZM1124.45,755.65V807.56H1126.48V820.10H1128.15V820.10H1130.18V755.65ZM1154.93,755.65V766.20H1158.63V755.65ZM1159.00,755.65V769.59H1162.70V755.65ZM1179.32,755.65V778.07H1183.02V755.65ZM1183.39,755.65V762.47H1187.09V755.65ZM1197.61,755.65V761.80H1199.64V762.13H1201.31V762.13H1201.68V785.87H1203.34V785.87H1203.71V785.87H1205.38V773.32H1207.41V755.65ZM1211.84,755.65V762.47H1215.54V755.65ZM1217.94,755.65V763.83H1221.64V755.65Z"/></g><g fill="#4393c3"><path d="M174.03,755.65V825.42H176.06V825.42H176.23V779.65H178.10V838.64H178.26V838.64H180.13V838.64H180.30V765.75H182.33V755.65ZM184.19,755.65V832.54H186.23V832.54H186.39V807.11H188.26V807.11H188.43V783.38H190.29V814.91H190.46V814.91H192.32V814.91H192.49V782.02H194.52V755.65ZM198.42,755.65V799.99H200.45V852.20H200.62V852.20H202.49V852.20H202.65V814.23H204.52V844.40H204.69V844.40H206.55V844.40H206.72V782.02H208.58V817.62H208.75V817.62H210.62V817.62H210.78V807.11H212.65V807.11H212.82V776.26H214.68V790.16H214.85V790.16H216.71V821.35H216.88V821.35H218.75V821.35H218.91V795.92H220.95V755.65ZM222.81,755.65V796.60H224.84V796.60H225.01V777.62H226.87V818.98H227.04V818.98H228.91V818.98H229.07V782.02H230.94V782.02H231.11V773.55H232.97V795.25H233.14V795.25H235.00V805.08H235.17V805.08H237.04V805.08H237.20V766.43H239.24V755.65ZM241.10,755.65V791.86H243.13V806.43H243.30V806.43H245.33V755.65ZM247.20,755.65V802.37H249.23V802.37H249.40V781.69H251.26V807.11H251.43V807.11H253.30V807.11H253.46V785.41H255.33V807.11H255.50V807.11H257.36V807.11H257.53V789.48H259.39V795.25H259.56V795.25H261.59V755.65ZM263.46,755.65V777.62H265.66V755.65ZM271.59,755.65V821.01H273.62V821.01H273.79V769.82H275.82V755.65ZM277.68,755.65V763.38H279.72V795.25H279.88V795.25H281.75V795.25H281.92V765.07H283.78V803.72H283.95V803.72H285.98V755.65ZM287.85,755.65V773.55H289.88V801.35H290.05V801.35H291.91V801.35H292.08V779.65H294.11V755.65ZM295.98,755.65V791.86H298.01V827.79H298.18V827.79H300.04V827.79H300.21V777.62H302.07V777.62H302.24V773.55H304.11V811.52H304.27V811.52H306.14V816.94H306.31V816.94H308.17V818.98H308.34V818.98H310.20V818.98H310.37V817.62H312.40V755.65ZM314.27,755.65V776.94H316.30V795.92H316.47V795.92H318.50V755.65ZM320.37,755.65V946.44H322.40V946.44H322.57V833.21H324.43V833.21H324.60V794.57H326.46V794.57H326.63V773.55H328.49V811.52H328.66V811.52H330.53V811.52H330.69V802.37H332.56V802.37H332.73V777.62H334.59V779.65H334.76V779.65H336.62V779.65H336.79V768.46H338.66V826.77H338.82V826.77H340.69V826.77H340.86V794.57H342.89V755.65ZM344.75,755.65V906.10H346.79V906.10H346.95V776.26H348.82V791.86H348.99V791.86H351.02V755.65ZM352.88,755.65V763.38H354.92V798.64H355.08V798.64H356.95V798.98H357.12V798.98H358.98V811.52H359.15V811.52H361.01V811.52H361.18V769.82H363.05V769.82H363.21V762.36H365.08V830.16H365.25V830.16H367.28V755.65ZM369.14,755.65V824.40H371.18V906.10H371.34V906.10H373.21V906.10H373.38V805.08H375.24V814.23H375.41V814.23H377.27V814.23H377.44V802.37H379.30V802.37H379.47V796.60H381.34V829.49H381.50V829.49H383.37V829.49H383.54V758.63H385.40V763.72H385.57V763.72H387.43V787.45H387.60V787.45H389.47V787.45H389.63V777.62H391.67V755.65ZM393.53,755.65V778.30H395.56V800.67H395.73V800.67H397.60V805.75H397.76V805.75H399.80V755.65ZM401.66,755.65V773.55H403.86V755.65ZM405.73,755.65V784.06H407.76V784.06H407.93V770.16H409.79V778.30H409.96V778.30H411.82V866.10H411.99V866.10H413.86V866.10H414.02V790.50H416.06V755.65ZM424.02,755.65V768.46H426.05V774.23H426.22V774.23H428.08V780.33H428.25V780.33H430.11V781.01H430.28V781.01H432.15V781.01H432.31V761.68H434.18V763.38H434.35V763.38H436.21V784.74H436.38V784.74H438.24V784.74H438.41V761.68H440.44V755.65ZM446.37,755.65V769.82H448.41V795.25H448.57V795.25H450.44V795.25H450.61V795.25H452.47V795.25H452.64V795.25H454.50V795.25H454.67V784.06H456.54V803.72H456.70V803.72H458.74V755.65ZM460.60,755.65V762.36H462.63V764.40H462.80V764.40H464.83V755.65ZM466.70,755.65V841.69H468.90V755.65ZM470.76,755.65V796.60H472.80V840.67H472.96V840.67H474.83V840.67H475.00V796.60H476.86V796.60H477.03V770.16H478.89V771.18H479.06V771.18H480.92V771.18H481.09V765.07H482.96V776.26H483.12V776.26H484.99V776.26H485.16V761.35H487.02V791.86H487.19V791.86H489.22V755.65ZM495.15,755.65V807.79H497.18V807.79H497.35V765.75H499.22V784.74H499.38V784.74H501.25V800.67H501.42V800.67H503.45V755.65ZM505.31,755.65V772.19H507.35V842.37H507.51V842.37H509.38V842.37H509.55V784.74H511.41V784.74H511.58V769.14H513.61V755.65ZM515.48,755.65V778.97H517.51V793.89H517.68V793.89H519.54V793.89H519.71V780.33H521.74V755.65ZM523.61,755.65V807.79H525.64V814.23H525.81V814.23H527.67V814.23H527.84V803.72H529.70V831.86H529.87V831.86H531.73V831.86H531.90V790.50H533.77V889.83H533.93V889.83H535.97V755.65ZM539.86,755.65V832.54H542.06V755.65ZM545.96,755.65V788.13H547.99V793.21H548.16V793.21H550.19V755.65ZM552.06,755.65V761.01H554.26V755.65ZM556.12,755.65V775.58H558.32V755.65ZM568.32,755.65V780.33H570.35V780.33H570.52V774.91H572.55V755.65ZM574.42,755.65V774.23H576.45V788.13H576.62V788.13H578.48V788.13H578.65V788.13H580.68V755.65ZM582.54,755.65V837.96H584.58V837.96H584.74V826.10H586.78V755.65ZM588.64,755.65V854.91H590.67V854.91H590.84V843.04H592.71V843.04H592.87V786.09H594.74V786.09H594.91V765.75H596.77V776.26H596.94V776.26H598.80V803.72H598.97V803.72H600.84V803.72H601.00V771.52H602.87V835.25H603.04V835.25H604.90V835.25H605.07V767.79H607.10V755.65ZM608.97,755.65V810.84H611.17V755.65ZM615.06,755.65V757.62H617.10V837.28H617.26V837.28H619.13V837.28H619.30V774.23H621.16V774.23H621.33V765.41H623.19V784.40H623.36V784.40H625.23V784.40H625.39V758.63H627.26V787.45H627.43V787.45H629.29V800.67H629.46V800.67H631.32V800.67H631.49V763.72H633.35V768.46H633.52V768.46H635.55V755.65ZM639.45,755.65V793.21H641.48V793.21H641.65V773.55H643.52V773.55H643.68V766.77H645.72V755.65ZM647.58,755.65V774.23H649.61V785.41H649.78V785.41H651.65V785.41H651.81V769.82H653.68V808.47H653.85V808.47H655.71V856.94H655.88V856.94H657.74V856.94H657.91V808.47H659.94V755.65ZM661.81,755.65V781.69H664.01V755.65ZM667.91,755.65V782.70H670.11V755.65ZM674.00,755.65V778.30H676.20V755.65ZM680.10,755.65V792.53H682.30V755.65ZM688.23,755.65V758.63H690.43V755.65ZM694.33,755.65V765.75H696.36V784.74H696.53V784.74H698.39V784.74H698.56V767.11H700.42V777.62H700.59V777.62H702.62V755.65ZM710.59,755.65V770.50H712.79V755.65ZM716.68,755.65V769.82H718.72V778.30H718.88V778.30H720.92V755.65ZM724.81,755.65V771.52H727.01V755.65ZM728.88,755.65V792.53H730.91V869.49H731.08V869.49H733.11V755.65ZM747.17,755.65V778.30H749.20V802.37H749.37V802.37H751.23V802.37H751.40V802.37H753.27V802.37H753.43V763.38H755.30V851.18H755.47V851.18H757.50V755.65ZM759.36,755.65V828.81H761.40V828.81H761.56V769.82H763.43V791.86H763.60V791.86H765.63V755.65ZM773.59,755.65V765.75H775.62V801.35H775.79V801.35H777.82V755.65ZM783.75,755.65V757.62H785.95V755.65ZM787.82,755.65V763.38H789.85V799.99H790.02V799.99H791.88V799.99H792.05V782.70H793.91V782.70H794.08V779.65H795.95V779.65H796.11V763.38H798.15V755.65ZM802.04,755.65V778.97H804.24V755.65ZM808.14,755.65V822.70H810.17V822.70H810.34V822.70H812.37V755.65ZM816.27,755.65V766.43H818.47V755.65ZM820.34,755.65V776.26H822.54V755.65ZM828.47,755.65V770.50H830.67V755.65ZM832.53,755.65V833.89H834.56V833.89H834.73V828.81H836.76V755.65ZM844.72,755.65V761.68H846.92V755.65ZM856.92,755.65V776.26H859.12V755.65ZM867.08,755.65V761.01H869.28V755.65ZM871.15,755.65V776.94H873.35V755.65ZM875.21,755.65V797.28H877.41V755.65ZM887.40,755.65V768.46H889.44V768.46H889.60V763.38H891.47V769.82H891.64V769.82H893.50V769.82H893.67V763.38H895.53V789.48H895.70V789.48H897.73V755.65ZM905.70,755.65V765.75H907.73V765.75H907.90V758.29H909.93V755.65ZM913.83,755.65V760.67H915.86V761.35H916.03V761.35H917.89V761.35H918.06V761.35H920.09V755.65ZM921.96,755.65V768.46H924.16V755.65ZM926.02,755.65V777.62H928.22V755.65ZM930.09,755.65V798.64H932.12V798.64H932.29V776.26H934.32V755.65ZM944.31,755.65V763.38H946.34V798.64H946.51V798.64H948.54V755.65ZM950.41,755.65V849.15H952.61V755.65ZM954.47,755.65V828.81H956.51V828.81H956.67V769.82H958.71V755.65ZM966.67,755.65V760.67H968.87V755.65ZM978.86,755.65V892.88H981.06V755.65ZM999.19,755.65V817.62H1001.39V755.65ZM1005.28,755.65V849.15H1007.32V849.15H1007.48V761.35H1009.52V755.65ZM1017.48,755.65V770.50H1019.68V755.65ZM1035.77,755.65V776.26H1037.97V755.65ZM1039.83,755.65V760.67H1042.03V755.65ZM1060.16,755.65V767.45H1062.36V755.65ZM1068.29,755.65V767.45H1070.49V755.65ZM1092.68,755.65V772.19H1094.71V782.36H1094.88V782.36H1096.91V755.65ZM1104.87,755.65V778.30H1106.90V778.30H1107.07V765.07H1109.10V755.65ZM1110.97,755.65V762.02H1113.17V755.65ZM1125.20,755.65V807.11H1127.23V819.65H1127.40V819.65H1129.43V755.65ZM1155.68,755.65V765.75H1157.88V755.65ZM1159.75,755.65V769.14H1161.95V755.65ZM1180.07,755.65V777.62H1182.27V755.65ZM1184.14,755.65V762.02H1186.34V755.65ZM1198.36,755.65V761.35H1200.39V761.68H1200.56V761.68H1202.43V785.41H1202.59V785.41H1204.46V785.41H1204.63V772.87H1206.66V755.65ZM1212.59,755.65V762.02H1214.79V755.65ZM1218.69,755.65V763.38H1220.89V755.65Z"/></g>
<g fill="#06066e" opacity="0.55"><rect x="171.15" y="755.65" width="3.9" height="102.42"/><rect x="195.54" y="755.65" width="3.9" height="109.54"/><rect x="219.93" y="755.65" width="3.9" height="38.69"/><rect x="244.32" y="755.65" width="3.9" height="70.22"/><rect x="317.48" y="755.65" width="3.9" height="172.26"/><rect x="341.87" y="755.65" width="3.9" height="35.30"/><rect x="366.26" y="755.65" width="3.9" height="201.75"/><rect x="463.82" y="755.65" width="3.9" height="2.42"/><rect x="488.20" y="755.65" width="3.9" height="3.43"/><rect x="585.76" y="755.65" width="3.9" height="40.05"/><rect x="610.15" y="755.65" width="3.9" height="31.23"/><rect x="683.31" y="755.65" width="3.9" height="30.21"/><rect x="732.09" y="755.65" width="3.9" height="5.47"/><rect x="756.48" y="755.65" width="3.9" height="44.79"/><rect x="780.87" y="755.65" width="3.9" height="31.57"/><rect x="829.65" y="755.65" width="3.9" height="75.98"/><rect x="902.81" y="755.65" width="3.9" height="14.62"/><rect x="927.20" y="755.65" width="3.9" height="108.86"/><rect x="951.59" y="755.65" width="3.9" height="11.23"/><rect x="975.98" y="755.65" width="3.9" height="9.87"/><rect x="1000.37" y="755.65" width="3.9" height="8.52"/><rect x="1073.54" y="755.65" width="3.9" height="43.44"/><rect x="1097.92" y="755.65" width="3.9" height="45.47"/><rect x="1146.70" y="755.65" width="3.9" height="22.42"/></g><g fill="#06066e"><rect x="171.75" y="755.65" width="2.7" height="101.97"/><rect x="196.14" y="755.65" width="2.7" height="109.09"/><rect x="220.53" y="755.65" width="2.7" height="38.24"/><rect x="244.92" y="755.65" width="2.7" height="69.77"/><rect x="318.08" y="755.65" width="2.7" height="171.81"/><rect x="342.47" y="755.65" width="2.7" height="34.85"/><rect x="366.86" y="755.65" width="2.7" height="201.30"/><rect x="464.42" y="755.65" width="2.7" height="1.97"/><rect x="488.80" y="755.65" width="2.7" height="2.98"/><rect x="586.36" y="755.65" width="2.7" height="39.60"/><rect x="610.75" y="755.65" width="2.7" height="30.78"/><rect x="683.91" y="755.65" width="2.7" height="29.76"/><rect x="732.69" y="755.65" width="2.7" height="5.02"/><rect x="757.08" y="755.65" width="2.7" height="44.34"/><rect x="781.47" y="755.65" width="2.7" height="31.12"/><rect x="830.25" y="755.65" width="2.7" height="75.53"/><rect x="903.41" y="755.65" width="2.7" height="14.17"/><rect x="927.80" y="755.65" width="2.7" height="108.41"/><rect x="952.19" y="755.65" width="2.7" height="10.78"/><rect x="976.58" y="755.65" width="2.7" height="9.42"/><rect x="1000.97" y="755.65" width="2.7" height="8.07"/><rect x="1074.14" y="755.65" width="2.7" height="42.99"/><rect x="1098.52" y="755.65" width="2.7" height="45.02"/><rect x="1147.30" y="755.65" width="2.7" height="21.97"/></g>
<line x1="163.2" y1="756.0" x2="1232.4" y2="756.0" stroke="#4a4a4a" stroke-opacity="0.55" stroke-width="0.9"/>
<g fill="#ff2a00" opacity="0.55"><path d="M181.41,757.55V755.13H185.11V757.55ZM193.61,757.55V744.62H197.31V757.55ZM238.32,757.55V747.34H242.02V757.55ZM260.68,757.55V744.62H264.38V757.55ZM264.74,757.55V751.74H266.77V730.39H268.44V730.39H270.47V757.55ZM274.90,757.55V748.69H278.60V757.55ZM285.06,757.55V752.76H288.76V757.55ZM311.49,757.55V747.34H315.19V757.55ZM350.10,757.55V754.46H353.80V757.55ZM398.88,757.55V755.13H402.58V757.55ZM402.94,757.55V752.76H406.64V757.55ZM417.17,757.55V681.91H419.20V681.91H420.87V689.03H421.24V689.03H422.90V745.98H424.94V757.55ZM441.56,757.55V620.89H443.59V620.89H445.26V692.42H447.29V757.55ZM457.82,757.55V752.76H461.52V757.55ZM467.98,757.55V752.08H471.68V757.55ZM490.34,757.55V747.34H492.37V745.98H494.04V745.98H496.07V757.55ZM502.53,757.55V752.08H506.23V757.55ZM520.82,757.55V744.62H524.52V757.55ZM535.05,757.55V742.93H538.75V757.55ZM541.15,757.55V745.98H543.18V745.98H544.85V751.40H546.88V757.55ZM549.28,757.55V732.42H552.98V757.55ZM553.34,757.55V735.47H557.04V757.55ZM557.41,757.55V755.47H559.44V754.12H561.11V754.12H563.14V757.55ZM563.50,757.55V658.86H565.54V658.86H567.20V754.46H569.24V757.55ZM571.63,757.55V755.13H575.33V757.55ZM579.76,757.55V731.74H583.46V757.55ZM606.18,757.55V728.35H609.88V757.55ZM612.28,757.55V724.62H615.98V757.55ZM636.67,757.55V732.42H640.37V757.55ZM644.80,757.55V752.76H648.50V757.55ZM663.09,757.55V747.34H665.12V731.06H666.79V731.06H668.82V757.55ZM669.19,757.55V726.32H671.22V726.32H672.89V739.54H674.92V757.55ZM675.29,757.55V722.59H677.32V722.59H678.99V742.25H681.02V757.55ZM681.38,757.55V752.08H685.08V757.55ZM685.45,757.55V707.33H689.15V757.55ZM689.51,757.55V714.79H691.54V714.79H693.21V745.30H695.24V757.55ZM701.71,757.55V727.00H703.74V708.01H705.41V708.01H705.77V708.01H707.44V710.05H709.47V757.55ZM711.87,757.55V749.37H713.90V749.37H715.57V755.47H717.60V757.55ZM720.00,757.55V730.39H722.03V730.39H723.70V750.05H725.73V757.55ZM726.10,757.55V711.06H729.80V757.55ZM734.22,757.55V653.09H736.26V653.09H737.92V712.76H738.29V712.76H739.96V752.76H740.32V742.25H741.99V742.25H742.35V739.54H744.02V739.54H744.39V738.18H746.05V738.18H748.09V757.55ZM764.71,757.55V712.08H766.74V712.08H768.41V738.86H768.78V729.03H770.44V729.03H770.81V729.03H772.48V729.03H774.51V757.55ZM776.91,757.55V724.96H778.94V724.96H780.61V745.98H782.64V757.55ZM785.03,757.55V750.05H788.73V757.55ZM797.23,757.55V751.40H799.26V734.79H800.93V734.79H802.96V757.55ZM803.33,757.55V733.10H807.03V757.55ZM811.46,757.55V751.40H813.49V751.40H815.16V751.74H817.19V757.55ZM817.55,757.55V749.37H821.25V757.55ZM821.62,757.55V742.25H823.65V737.51H825.32V737.51H825.68V737.51H827.35V753.44H829.38V757.55ZM835.84,757.55V750.73H837.88V750.73H839.54V755.13H839.91V738.18H841.58V738.18H841.94V731.74H843.61V731.74H845.64V757.55ZM846.01,757.55V717.84H848.04V715.47H849.71V715.47H850.07V715.47H851.74V727.00H852.10V680.55H853.77V680.55H855.80V757.55ZM858.20,757.55V689.71H860.23V689.71H861.90V741.57H862.27V727.00H863.93V727.00H864.30V727.00H865.97V734.79H868.00V757.55ZM868.36,757.55V745.98H872.06V757.55ZM872.43,757.55V745.98H876.13V757.55ZM876.49,757.55V740.22H880.19V757.55ZM880.56,757.55V687.67H882.59V687.67H884.26V735.47H884.62V735.47H886.29V742.25H888.32V757.55ZM896.82,757.55V740.22H898.85V740.22H900.52V742.59H900.88V740.22H902.55V740.22H904.58V757.55ZM909.01,757.55V745.98H911.04V740.90H912.71V740.90H914.74V757.55ZM919.17,757.55V736.15H922.87V757.55ZM923.24,757.55V701.57H926.94V757.55ZM933.40,757.55V742.25H935.43V742.25H937.10V752.08H937.46V752.08H939.13V752.08H939.50V698.18H941.16V698.18H941.53V698.18H943.20V728.35H945.23V757.55ZM947.63,757.55V742.25H951.33V757.55ZM957.79,757.55V714.11H959.82V714.11H961.49V752.76H961.85V743.61H963.52V743.61H963.89V743.61H965.55V752.08H967.59V757.55ZM967.95,757.55V715.47H969.98V715.47H971.65V750.73H972.02V749.37H973.68V749.37H974.05V688.35H975.72V688.35H977.75V757.55ZM980.15,757.55V736.83H982.18V736.83H983.85V752.76H984.21V733.10H985.88V733.10H986.24V733.10H987.91V745.98H988.27V740.90H989.94V740.90H990.31V740.90H991.97V745.98H992.34V741.57H994.01V741.57H994.37V741.57H996.04V742.59H996.40V712.76H998.07V712.76H1000.10V757.55ZM1002.50,757.55V739.54H1006.20V757.55ZM1008.60,757.55V726.32H1010.63V726.32H1012.30V742.25H1012.66V742.25H1014.33V752.08H1014.70V748.01H1016.36V748.01H1018.40V757.55ZM1018.76,757.55V733.10H1020.79V717.84H1022.46V717.84H1022.83V717.84H1024.49V725.64H1026.53V757.55ZM1026.89,757.55V660.89H1028.92V660.89H1030.59V682.59H1030.96V682.59H1032.62V720.56H1032.99V720.56H1034.66V749.37H1036.69V757.55ZM1037.05,757.55V735.47H1040.75V757.55ZM1041.12,757.55V738.18H1043.15V738.18H1044.82V742.59H1045.18V728.01H1046.85V728.01H1047.21V728.01H1048.88V729.03H1050.91V757.55ZM1051.28,757.55V719.88H1053.31V712.08H1054.98V712.08H1055.34V712.08H1057.01V755.47H1057.38V749.03H1059.04V749.03H1061.08V757.55ZM1061.44,757.55V754.12H1063.47V729.03H1065.14V729.03H1065.51V721.57H1067.17V721.57H1069.21V757.55ZM1069.57,757.55V696.83H1071.60V670.04H1073.27V670.04H1075.30V757.55ZM1075.67,757.55V648.69H1077.70V648.69H1079.37V726.66H1079.73V725.64H1081.40V725.64H1081.77V725.64H1083.43V735.81H1083.80V735.81H1085.47V735.81H1085.83V735.81H1087.50V738.18H1087.86V738.18H1089.53V749.37H1089.89V721.57H1091.56V721.57H1093.59V757.55ZM1095.99,757.55V749.03H1099.69V757.55ZM1100.06,757.55V717.84H1102.09V686.99H1103.76V686.99H1105.79V757.55ZM1108.19,757.55V742.25H1111.89V757.55ZM1112.25,757.55V739.20H1114.28V739.20H1115.95V744.96H1116.32V740.90H1117.98V740.90H1118.35V740.90H1120.02V750.73H1120.38V708.69H1122.05V708.69H1124.08V757.55ZM1128.51,757.55V689.37H1130.54V685.30H1132.21V685.30H1132.58V685.30H1134.24V742.59H1134.61V713.78H1136.28V713.78H1136.64V713.78H1138.31V723.95H1138.67V713.78H1140.34V713.78H1140.70V713.78H1142.37V728.35H1142.74V728.35H1144.40V733.10H1144.77V733.10H1146.44V734.12H1148.47V757.55ZM1148.83,757.55V683.27H1150.87V683.27H1152.53V713.78H1152.90V713.78H1154.57V738.18H1156.60V757.55ZM1156.96,757.55V692.08H1160.66V757.55ZM1161.03,757.55V743.95H1163.06V743.95H1164.73V743.95H1165.09V726.32H1166.76V726.32H1167.13V724.62H1168.79V724.62H1169.16V666.65H1170.83V666.65H1172.86V757.55ZM1173.22,757.55V643.94H1175.26V643.94H1176.92V704.28H1177.29V704.28H1178.96V752.76H1180.99V757.55ZM1181.35,757.55V726.66H1185.05V757.55ZM1185.42,757.55V736.49H1187.45V708.01H1189.12V708.01H1189.48V705.30H1191.15V705.30H1191.51V701.91H1193.18V701.91H1193.55V698.86H1195.21V698.86H1197.25V757.55ZM1205.74,757.55V704.62H1207.77V704.62H1209.44V708.01H1209.81V708.01H1211.47V755.47H1213.51V757.55ZM1213.87,757.55V751.74H1215.90V737.51H1217.57V737.51H1219.60V757.55Z"/></g><g fill="#ff2a00"><path d="M182.16,757.55V755.58H184.36V757.55ZM194.36,757.55V745.07H196.56V757.55ZM239.07,757.55V747.79H241.27V757.55ZM261.43,757.55V745.07H263.63V757.55ZM265.49,757.55V752.19H267.52V730.84H267.69V730.84H269.72V757.55ZM275.65,757.55V749.14H277.85V757.55ZM285.81,757.55V753.21H288.01V757.55ZM312.24,757.55V747.79H314.44V757.55ZM350.85,757.55V754.91H353.05V757.55ZM399.63,757.55V755.58H401.83V757.55ZM403.69,757.55V753.21H405.89V757.55ZM417.92,757.55V682.36H419.95V682.36H420.12V689.48H421.99V689.48H422.15V746.43H424.19V757.55ZM442.31,757.55V621.34H444.34V621.34H444.51V692.87H446.54V757.55ZM458.57,757.55V753.21H460.77V757.55ZM468.73,757.55V752.53H470.93V757.55ZM491.09,757.55V747.79H493.12V746.43H493.29V746.43H495.32V757.55ZM503.28,757.55V752.53H505.48V757.55ZM521.57,757.55V745.07H523.77V757.55ZM535.80,757.55V743.38H538.00V757.55ZM541.90,757.55V746.43H543.93V746.43H544.10V751.85H546.13V757.55ZM550.03,757.55V732.87H552.23V757.55ZM554.09,757.55V735.92H556.29V757.55ZM558.16,757.55V755.92H560.19V754.57H560.36V754.57H562.39V757.55ZM564.25,757.55V659.31H566.29V659.31H566.45V754.91H568.49V757.55ZM572.38,757.55V755.58H574.58V757.55ZM580.51,757.55V732.19H582.71V757.55ZM606.93,757.55V728.80H609.13V757.55ZM613.03,757.55V725.07H615.23V757.55ZM637.42,757.55V732.87H639.62V757.55ZM645.55,757.55V753.21H647.75V757.55ZM663.84,757.55V747.79H665.87V731.51H666.04V731.51H668.07V757.55ZM669.94,757.55V726.77H671.97V726.77H672.14V739.99H674.17V757.55ZM676.04,757.55V723.04H678.07V723.04H678.24V742.70H680.27V757.55ZM682.13,757.55V752.53H684.33V757.55ZM686.20,757.55V707.78H688.40V757.55ZM690.26,757.55V715.24H692.29V715.24H692.46V745.75H694.49V757.55ZM702.46,757.55V727.45H704.49V708.46H704.66V708.46H706.52V708.46H706.69V710.50H708.72V757.55ZM712.62,757.55V749.82H714.65V749.82H714.82V755.92H716.85V757.55ZM720.75,757.55V730.84H722.78V730.84H722.95V750.50H724.98V757.55ZM726.85,757.55V711.51H729.05V757.55ZM734.97,757.55V653.54H737.01V653.54H737.17V713.21H739.04V713.21H739.21V753.21H741.07V742.70H741.24V742.70H743.10V739.99H743.27V739.99H745.14V738.63H745.30V738.63H747.34V757.55ZM765.46,757.55V712.53H767.49V712.53H767.66V739.31H769.53V729.48H769.69V729.48H771.56V729.48H771.73V729.48H773.76V757.55ZM777.66,757.55V725.41H779.69V725.41H779.86V746.43H781.89V757.55ZM785.78,757.55V750.50H787.98V757.55ZM797.98,757.55V751.85H800.01V735.24H800.18V735.24H802.21V757.55ZM804.08,757.55V733.55H806.28V757.55ZM812.21,757.55V751.85H814.24V751.85H814.41V752.19H816.44V757.55ZM818.30,757.55V749.82H820.50V757.55ZM822.37,757.55V742.70H824.40V737.96H824.57V737.96H826.43V737.96H826.60V753.89H828.63V757.55ZM836.59,757.55V751.18H838.63V751.18H838.79V755.58H840.66V738.63H840.83V738.63H842.69V732.19H842.86V732.19H844.89V757.55ZM846.76,757.55V718.29H848.79V715.92H848.96V715.92H850.82V715.92H850.99V727.45H852.85V681.00H853.02V681.00H855.05V757.55ZM858.95,757.55V690.16H860.98V690.16H861.15V742.02H863.02V727.45H863.18V727.45H865.05V727.45H865.22V735.24H867.25V757.55ZM869.11,757.55V746.43H871.31V757.55ZM873.18,757.55V746.43H875.38V757.55ZM877.24,757.55V740.67H879.44V757.55ZM881.31,757.55V688.12H883.34V688.12H883.51V735.92H885.37V735.92H885.54V742.70H887.57V757.55ZM897.57,757.55V740.67H899.60V740.67H899.77V743.04H901.63V740.67H901.80V740.67H903.83V757.55ZM909.76,757.55V746.43H911.79V741.35H911.96V741.35H913.99V757.55ZM919.92,757.55V736.60H922.12V757.55ZM923.99,757.55V702.02H926.19V757.55ZM934.15,757.55V742.70H936.18V742.70H936.35V752.53H938.21V752.53H938.38V752.53H940.25V698.63H940.41V698.63H942.28V698.63H942.45V728.80H944.48V757.55ZM948.38,757.55V742.70H950.58V757.55ZM958.54,757.55V714.56H960.57V714.56H960.74V753.21H962.60V744.06H962.77V744.06H964.64V744.06H964.80V752.53H966.84V757.55ZM968.70,757.55V715.92H970.73V715.92H970.90V751.18H972.77V749.82H972.93V749.82H974.80V688.80H974.97V688.80H977.00V757.55ZM980.90,757.55V737.28H982.93V737.28H983.10V753.21H984.96V733.55H985.13V733.55H986.99V733.55H987.16V746.43H989.02V741.35H989.19V741.35H991.06V741.35H991.22V746.43H993.09V742.02H993.26V742.02H995.12V742.02H995.29V743.04H997.15V713.21H997.32V713.21H999.35V757.55ZM1003.25,757.55V739.99H1005.45V757.55ZM1009.35,757.55V726.77H1011.38V726.77H1011.55V742.70H1013.41V742.70H1013.58V752.53H1015.45V748.46H1015.61V748.46H1017.65V757.55ZM1019.51,757.55V733.55H1021.54V718.29H1021.71V718.29H1023.58V718.29H1023.74V726.09H1025.78V757.55ZM1027.64,757.55V661.34H1029.67V661.34H1029.84V683.04H1031.71V683.04H1031.87V721.01H1033.74V721.01H1033.91V749.82H1035.94V757.55ZM1037.80,757.55V735.92H1040.00V757.55ZM1041.87,757.55V738.63H1043.90V738.63H1044.07V743.04H1045.93V728.46H1046.10V728.46H1047.96V728.46H1048.13V729.48H1050.16V757.55ZM1052.03,757.55V720.33H1054.06V712.53H1054.23V712.53H1056.09V712.53H1056.26V755.92H1058.13V749.48H1058.29V749.48H1060.33V757.55ZM1062.19,757.55V754.57H1064.22V729.48H1064.39V729.48H1066.26V722.02H1066.42V722.02H1068.46V757.55ZM1070.32,757.55V697.28H1072.35V670.49H1072.52V670.49H1074.55V757.55ZM1076.42,757.55V649.14H1078.45V649.14H1078.62V727.11H1080.48V726.09H1080.65V726.09H1082.52V726.09H1082.68V736.26H1084.55V736.26H1084.72V736.26H1086.58V736.26H1086.75V738.63H1088.61V738.63H1088.78V749.82H1090.64V722.02H1090.81V722.02H1092.84V757.55ZM1096.74,757.55V749.48H1098.94V757.55ZM1100.81,757.55V718.29H1102.84V687.44H1103.01V687.44H1105.04V757.55ZM1108.94,757.55V742.70H1111.14V757.55ZM1113.00,757.55V739.65H1115.03V739.65H1115.20V745.41H1117.07V741.35H1117.23V741.35H1119.10V741.35H1119.27V751.18H1121.13V709.14H1121.30V709.14H1123.33V757.55ZM1129.26,757.55V689.82H1131.29V685.75H1131.46V685.75H1133.33V685.75H1133.49V743.04H1135.36V714.23H1135.53V714.23H1137.39V714.23H1137.56V724.40H1139.42V714.23H1139.59V714.23H1141.45V714.23H1141.62V728.80H1143.49V728.80H1143.65V733.55H1145.52V733.55H1145.69V734.57H1147.72V757.55ZM1149.58,757.55V683.72H1151.62V683.72H1151.78V714.23H1153.65V714.23H1153.82V738.63H1155.85V757.55ZM1157.71,757.55V692.53H1159.91V757.55ZM1161.78,757.55V744.40H1163.81V744.40H1163.98V744.40H1165.84V726.77H1166.01V726.77H1167.88V725.07H1168.04V725.07H1169.91V667.10H1170.08V667.10H1172.11V757.55ZM1173.97,757.55V644.39H1176.01V644.39H1176.17V704.73H1178.04V704.73H1178.21V753.21H1180.24V757.55ZM1182.10,757.55V727.11H1184.30V757.55ZM1186.17,757.55V736.94H1188.20V708.46H1188.37V708.46H1190.23V705.75H1190.40V705.75H1192.26V702.36H1192.43V702.36H1194.30V699.31H1194.46V699.31H1196.50V757.55ZM1206.49,757.55V705.07H1208.52V705.07H1208.69V708.46H1210.56V708.46H1210.72V755.92H1212.76V757.55ZM1214.62,757.55V752.19H1216.65V737.96H1216.82V737.96H1218.85V757.55Z"/></g>
<g fill="#800000" opacity="0.55"><rect x="268.71" y="717.17" width="3.9" height="40.38"/><rect x="293.09" y="753.78" width="3.9" height="3.77"/><rect x="390.65" y="729.71" width="3.9" height="27.84"/><rect x="415.04" y="712.76" width="3.9" height="44.79"/><rect x="439.43" y="753.78" width="3.9" height="3.77"/><rect x="512.59" y="740.22" width="3.9" height="17.33"/><rect x="536.98" y="718.52" width="3.9" height="39.03"/><rect x="561.37" y="752.76" width="3.9" height="4.79"/><rect x="634.54" y="719.20" width="3.9" height="38.35"/><rect x="658.93" y="752.08" width="3.9" height="5.47"/><rect x="707.70" y="702.25" width="3.9" height="55.30"/><rect x="805.26" y="710.72" width="3.9" height="46.83"/><rect x="854.04" y="674.11" width="3.9" height="83.44"/><rect x="878.43" y="718.52" width="3.9" height="39.03"/><rect x="1024.76" y="744.62" width="3.9" height="12.93"/><rect x="1049.15" y="725.64" width="3.9" height="31.91"/><rect x="1122.31" y="700.89" width="3.9" height="56.66"/><rect x="1171.09" y="666.32" width="3.9" height="91.23"/><rect x="1195.48" y="754.46" width="3.9" height="3.10"/><rect x="1219.87" y="729.03" width="3.9" height="28.52"/></g><g fill="#800000"><rect x="269.31" y="717.62" width="2.7" height="39.93"/><rect x="293.69" y="754.23" width="2.7" height="3.32"/><rect x="391.25" y="730.16" width="2.7" height="27.39"/><rect x="415.64" y="713.21" width="2.7" height="44.34"/><rect x="440.03" y="754.23" width="2.7" height="3.32"/><rect x="513.19" y="740.67" width="2.7" height="16.88"/><rect x="537.58" y="718.97" width="2.7" height="38.58"/><rect x="561.97" y="753.21" width="2.7" height="4.34"/><rect x="635.14" y="719.65" width="2.7" height="37.90"/><rect x="659.53" y="752.53" width="2.7" height="5.02"/><rect x="708.30" y="702.70" width="2.7" height="54.85"/><rect x="805.86" y="711.17" width="2.7" height="46.38"/><rect x="854.64" y="674.56" width="2.7" height="82.99"/><rect x="879.03" y="718.97" width="2.7" height="38.58"/><rect x="1025.36" y="745.07" width="2.7" height="12.48"/><rect x="1049.75" y="726.09" width="2.7" height="31.46"/><rect x="1122.91" y="701.34" width="2.7" height="56.21"/><rect x="1171.69" y="666.77" width="2.7" height="90.78"/><rect x="1196.08" y="754.91" width="2.7" height="2.65"/><rect x="1220.47" y="729.48" width="2.7" height="28.07"/></g>
<rect x="163.2" y="605" width="1069.2" height="367.29999999999995" fill="none" stroke="#3a3a3a" stroke-width="1.9"/>
<g stroke="#3a3a3a" stroke-width="1.7"><line x1="150.79999999999998" y1="621.00" x2="163.2" y2="621.00"/><line x1="150.79999999999998" y1="688.80" x2="163.2" y2="688.80"/><line x1="150.79999999999998" y1="756.60" x2="163.2" y2="756.60"/><line x1="150.79999999999998" y1="824.40" x2="163.2" y2="824.40"/><line x1="150.79999999999998" y1="892.20" x2="163.2" y2="892.20"/><line x1="150.79999999999998" y1="960.00" x2="163.2" y2="960.00"/><line x1="173.10" y1="972.3" x2="173.10" y2="978.5"/><line x1="197.49" y1="972.3" x2="197.49" y2="981.5999999999999"/><line x1="221.88" y1="972.3" x2="221.88" y2="978.5"/><line x1="246.27" y1="972.3" x2="246.27" y2="978.5"/><line x1="270.66" y1="972.3" x2="270.66" y2="978.5"/><line x1="295.04" y1="972.3" x2="295.04" y2="978.5"/><line x1="319.43" y1="972.3" x2="319.43" y2="981.5999999999999"/><line x1="343.82" y1="972.3" x2="343.82" y2="978.5"/><line x1="368.21" y1="972.3" x2="368.21" y2="978.5"/><line x1="392.60" y1="972.3" x2="392.60" y2="978.5"/><line x1="416.99" y1="972.3" x2="416.99" y2="978.5"/><line x1="441.38" y1="972.3" x2="441.38" y2="981.5999999999999"/><line x1="465.77" y1="972.3" x2="465.77" y2="978.5"/><line x1="490.15" y1="972.3" x2="490.15" y2="978.5"/><line x1="514.54" y1="972.3" x2="514.54" y2="978.5"/><line x1="538.93" y1="972.3" x2="538.93" y2="978.5"/><line x1="563.32" y1="972.3" x2="563.32" y2="981.5999999999999"/><line x1="587.71" y1="972.3" x2="587.71" y2="978.5"/><line x1="612.10" y1="972.3" x2="612.10" y2="978.5"/><line x1="636.49" y1="972.3" x2="636.49" y2="978.5"/><line x1="660.88" y1="972.3" x2="660.88" y2="978.5"/><line x1="685.26" y1="972.3" x2="685.26" y2="981.5999999999999"/><line x1="709.65" y1="972.3" x2="709.65" y2="978.5"/><line x1="734.04" y1="972.3" x2="734.04" y2="978.5"/><line x1="758.43" y1="972.3" x2="758.43" y2="978.5"/><line x1="782.82" y1="972.3" x2="782.82" y2="978.5"/><line x1="807.21" y1="972.3" x2="807.21" y2="981.5999999999999"/><line x1="831.60" y1="972.3" x2="831.60" y2="978.5"/><line x1="855.99" y1="972.3" x2="855.99" y2="978.5"/><line x1="880.38" y1="972.3" x2="880.38" y2="978.5"/><line x1="904.76" y1="972.3" x2="904.76" y2="978.5"/><line x1="929.15" y1="972.3" x2="929.15" y2="981.5999999999999"/><line x1="953.54" y1="972.3" x2="953.54" y2="978.5"/><line x1="977.93" y1="972.3" x2="977.93" y2="978.5"/><line x1="1002.32" y1="972.3" x2="1002.32" y2="978.5"/><line x1="1026.71" y1="972.3" x2="1026.71" y2="978.5"/><line x1="1051.10" y1="972.3" x2="1051.10" y2="981.5999999999999"/><line x1="1075.49" y1="972.3" x2="1075.49" y2="978.5"/><line x1="1099.87" y1="972.3" x2="1099.87" y2="978.5"/><line x1="1124.26" y1="972.3" x2="1124.26" y2="978.5"/><line x1="1148.65" y1="972.3" x2="1148.65" y2="978.5"/><line x1="1173.04" y1="972.3" x2="1173.04" y2="981.5999999999999"/><line x1="1197.43" y1="972.3" x2="1197.43" y2="978.5"/><line x1="1221.82" y1="972.3" x2="1221.82" y2="978.5"/></g>
<g class="ax"><text x="134" y="630.40" text-anchor="end">4</text><text x="134" y="698.20" text-anchor="end">2</text><text x="134" y="766.00" text-anchor="end">0</text><text x="134" y="833.80" text-anchor="end">-2</text><text x="134" y="901.60" text-anchor="end">-4</text><text x="134" y="969.40" text-anchor="end">-6</text><text x="197.49" y="1018.9" text-anchor="middle">1980</text><text x="319.43" y="1018.9" text-anchor="middle">1985</text><text x="441.38" y="1018.9" text-anchor="middle">1990</text><text x="563.32" y="1018.9" text-anchor="middle">1995</text><text x="685.26" y="1018.9" text-anchor="middle">2000</text><text x="807.21" y="1018.9" text-anchor="middle">2005</text><text x="929.15" y="1018.9" text-anchor="middle">2010</text><text x="1051.10" y="1018.9" text-anchor="middle">2015</text><text x="1173.04" y="1018.9" text-anchor="middle">2020</text></g>
<text class="deg" x="72.6" y="787.4" id="d2">° C</text>
<text class="cap" x="697.5" y="1052.8" text-anchor="middle" id="cap">(Data: ERA5.  Reference period: 1991-2020.  Credit: C3S/ECMWF)</text>
<text id="dc" transform="translate(1240.8,803) rotate(90)" style="font-family:'Liberation Sans',sans-serif;font-size:15px;fill:#111">Date created: 2022-02-03</text>
<g id="ec"><path d="M15,1117.3V1079.4C28,1078.6 40,1077.4 47,1075.2C56,1072.3 62.5,1067.5 67.8,1061.2V1084.2H37.0V1117.3Z" fill="#c2c2c2"/><line x1="17" y1="1083.5" x2="37" y2="1083.1" stroke="#fff" stroke-width="1.3" opacity="0.75"/><line x1="17" y1="1088.2" x2="37" y2="1087.8" stroke="#fff" stroke-width="1.3" opacity="0.75"/><line x1="17" y1="1092.9" x2="37" y2="1092.5" stroke="#fff" stroke-width="1.3" opacity="0.75"/><line x1="17" y1="1097.6" x2="37" y2="1097.1999999999998" stroke="#fff" stroke-width="1.3" opacity="0.75"/><line x1="17" y1="1102.3" x2="37" y2="1101.8999999999999" stroke="#fff" stroke-width="1.3" opacity="0.75"/><line x1="17" y1="1107.0" x2="37" y2="1106.6" stroke="#fff" stroke-width="1.3" opacity="0.75"/><line x1="17" y1="1111.7" x2="37" y2="1111.3" stroke="#fff" stroke-width="1.3" opacity="0.75"/><path d="M24,1082.4C34,1081.6 42,1080.6 48,1078.8C56,1076.1 62.5,1071.7 67.8,1065.8" fill="none" stroke="#fff" stroke-width="1.1" opacity="0.7"/><path d="M24,1085.6C34,1084.8 42,1083.8 48,1082.0C56,1079.3 62.5,1074.9 67.8,1069.0" fill="none" stroke="#fff" stroke-width="1.1" opacity="0.7"/><path d="M24,1088.8C34,1088.0 42,1087.0 48,1085.2C56,1082.5 62.5,1078.1 67.8,1072.2" fill="none" stroke="#fff" stroke-width="1.1" opacity="0.7"/><path d="M24,1092.0C34,1091.2 42,1090.2 48,1088.4C56,1085.7 62.5,1081.3 67.8,1075.4" fill="none" stroke="#fff" stroke-width="1.1" opacity="0.7"/><clipPath id="rbc"><path d="M89.2,1061.2C93,1072 98,1080.5 105,1083.8C110,1086.1 116,1087.4 121.8,1088.2V1117.3H89.2Z"/></clipPath><path d="M89.2,1061.2C93,1072 98,1080.5 105,1083.8C110,1086.1 116,1087.4 121.8,1088.2V1117.3H89.2Z" fill="#c2c2c2"/><g clip-path="url(#rbc)" fill="none" stroke="#fff" stroke-width="1.2" opacity="0.7"><path d="M89.2,1067.8C93,1077.1 98,1084.5 105,1087.6C110,1089.7 116,1090.9 121.8,1091.7"/><path d="M89.2,1071.1C93,1080.3 98,1087.6 105,1090.5C110,1092.7 116,1093.8 121.8,1094.5"/><path d="M89.2,1074.4C93,1083.4 98,1090.6 105,1093.5C110,1095.6 116,1096.7 121.8,1097.4"/><path d="M89.2,1077.7C93,1086.5 98,1093.6 105,1096.5C110,1098.5 116,1099.6 121.8,1100.3"/><path d="M89.2,1081.0C93,1089.7 98,1096.7 105,1099.4C110,1101.5 116,1102.5 121.8,1103.2"/><path d="M89.2,1084.3C93,1092.8 98,1099.7 105,1102.4C110,1104.4 116,1105.4 121.8,1106.0"/><path d="M89.2,1087.6C93,1095.9 98,1102.8 105,1105.4C110,1107.4 116,1108.3 121.8,1108.9"/><path d="M89.2,1090.9C93,1099.1 98,1105.8 105,1108.4C110,1110.3 116,1111.2 121.8,1111.8"/><path d="M89.2,1094.2C93,1102.2 98,1108.8 105,1111.3C110,1113.2 116,1114.1 121.8,1114.6"/><path d="M89.2,1097.5C93,1105.3 98,1111.9 105,1114.3C110,1116.2 116,1117.0 121.8,1117.5"/><path d="M89.2,1100.8C93,1108.5 98,1114.9 105,1117.3C110,1119.1 116,1119.9 121.8,1120.4"/><path d="M89.2,1104.1C93,1111.6 98,1117.9 105,1120.2C110,1122.0 116,1122.8 121.8,1123.3"/><path d="M89.2,1107.4C93,1114.8 98,1121.0 105,1123.2C110,1125.0 116,1125.8 121.8,1126.1"/><path d="M89.2,1110.7C93,1117.9 98,1124.0 105,1126.2C110,1127.9 116,1128.7 121.8,1129.0"/><path d="M89.2,1114.0C93,1121.0 98,1127.0 105,1129.1C110,1130.9 116,1131.6 121.8,1131.9"/><path d="M89.2,1117.3C93,1124.2 98,1130.1 105,1132.1C110,1133.8 116,1134.5 121.8,1134.7"/><path d="M89.2,1120.6C93,1127.3 98,1133.1 105,1135.1C110,1136.7 116,1137.4 121.8,1137.6"/></g><rect x="88" y="1117.4" width="35" height="12" fill="#fff"/><rect x="37" y="1084.1" width="45.8" height="32.9" fill="#1c4da6"/><polygon points="59.90,1087.95 60.26,1089.00 61.37,1089.02 60.49,1089.69 60.81,1090.75 59.90,1090.12 58.99,1090.75 59.31,1089.69 58.43,1089.02 59.54,1089.00" fill="#f4d21f"/><polygon points="65.50,1089.45 65.86,1090.50 66.97,1090.52 66.09,1091.19 66.41,1092.25 65.50,1091.62 64.59,1092.25 64.91,1091.19 64.03,1090.52 65.14,1090.50" fill="#f4d21f"/><polygon points="69.60,1093.55 69.96,1094.60 71.07,1094.62 70.19,1095.29 70.51,1096.35 69.60,1095.72 68.69,1096.35 69.01,1095.29 68.13,1094.62 69.24,1094.60" fill="#f4d21f"/><polygon points="71.10,1099.15 71.46,1100.20 72.57,1100.22 71.69,1100.89 72.01,1101.95 71.10,1101.32 70.19,1101.95 70.51,1100.89 69.63,1100.22 70.74,1100.20" fill="#f4d21f"/><polygon points="69.60,1104.75 69.96,1105.80 71.07,1105.82 70.19,1106.49 70.51,1107.55 69.60,1106.92 68.69,1107.55 69.01,1106.49 68.13,1105.82 69.24,1105.80" fill="#f4d21f"/><polygon points="65.50,1108.85 65.86,1109.90 66.97,1109.92 66.09,1110.59 66.41,1111.65 65.50,1111.02 64.59,1111.65 64.91,1110.59 64.03,1109.92 65.14,1109.90" fill="#f4d21f"/><polygon points="59.90,1110.35 60.26,1111.40 61.37,1111.42 60.49,1112.09 60.81,1113.15 59.90,1112.52 58.99,1113.15 59.31,1112.09 58.43,1111.42 59.54,1111.40" fill="#f4d21f"/><polygon points="54.30,1108.85 54.66,1109.90 55.77,1109.92 54.89,1110.59 55.21,1111.65 54.30,1111.02 53.39,1111.65 53.71,1110.59 52.83,1109.92 53.94,1109.90" fill="#f4d21f"/><polygon points="50.20,1104.75 50.56,1105.80 51.67,1105.82 50.79,1106.49 51.11,1107.55 50.20,1106.92 49.29,1107.55 49.61,1106.49 48.73,1105.82 49.84,1105.80" fill="#f4d21f"/><polygon points="48.70,1099.15 49.06,1100.20 50.17,1100.22 49.29,1100.89 49.61,1101.95 48.70,1101.32 47.79,1101.95 48.11,1100.89 47.23,1100.22 48.34,1100.20" fill="#f4d21f"/><polygon points="50.20,1093.55 50.56,1094.60 51.67,1094.62 50.79,1095.29 51.11,1096.35 50.20,1095.72 49.29,1096.35 49.61,1095.29 48.73,1094.62 49.84,1094.60" fill="#f4d21f"/><polygon points="54.30,1089.45 54.66,1090.50 55.77,1090.52 54.89,1091.19 55.21,1092.25 54.30,1091.62 53.39,1092.25 53.71,1091.19 52.83,1090.52 53.94,1090.50" fill="#f4d21f"/><line x1="37.2" y1="1117" x2="37.2" y2="1137.4" stroke="#c8c8c8" stroke-width="0.6"/><text x="39.6" y="1125.2" style="font-family:'Liberation Sans',sans-serif;font-size:5.7px;fill:#6b6b6b">European</text><text x="39.6" y="1132.9" style="font-family:'Liberation Sans',sans-serif;font-size:5.7px;fill:#6b6b6b">Commission</text><rect x="37" y="1137.3" width="45.8" height="2.9" fill="#1c4da6"/></g>
<g id="cop"><defs><linearGradient id="cg" x1="0" y1="0" x2="0" y2="1"><stop offset="0" stop-color="#5fa2d6"/><stop offset="0.5" stop-color="#4588c0"/><stop offset="1" stop-color="#2a5f95"/></linearGradient></defs><path d="M388.7,1081.4C384.5,1071.5 376.5,1065.0 366.5,1065.0C353.0,1065.0 342.9,1077.0 342.9,1091.3C342.9,1106.0 353.0,1117.6 366.5,1117.6C370.0,1117.6 373.0,1116.8 375.3,1115.4C372.5,1115.6 369.5,1114.8 366.5,1113.8C356.0,1111.0 348.7,1102.5 348.7,1090.5C348.7,1078.0 357.0,1069.1 369.0,1069.1C378.0,1069.1 384.8,1074.5 388.7,1081.4Z" fill="url(#cg)"/><text transform="translate(0,1107.9) scale(0.9,1)" x="402.00 419.00 435.89 451.33 463.56 483.33 491.56 506.67 523.11" y="0" style="font-family:'DejaVu Sans Light','DejaVu Sans','Liberation Sans',sans-serif;font-weight:200;font-size:28.6px;fill:#1d2a5c;stroke:#1d2a5c;stroke-width:0.85">oper<tspan textLength="23.6" lengthAdjust="spacingAndGlyphs">n</tspan>icus</text><circle cx="430.3" cy="1097.6" r="3.1" fill="#f6b912"/><text x="401" y="1118.6" textLength="81.2" lengthAdjust="spacingAndGlyphs" style="font-family:'Liberation Sans',sans-serif;font-size:8.4px;fill:#4b5879">Europe's eyes on Earth</text></g>
<g id="ecmwf"><text x="725.8" y="1077.6" textLength="68.4" lengthAdjust="spacingAndGlyphs" style="font-family:'Liberation Sans',sans-serif;font-size:8.6px;fill:#5a5a5a">IMPLEMENTED BY</text><circle cx="743.1" cy="1100.1" r="17.5" fill="#1173b9"/><circle cx="752.3" cy="1100.1" r="17.5" fill="#1173b9"/><circle cx="741.8" cy="1099.8" r="6.5" fill="#fff"/><circle cx="754.3" cy="1099.8" r="6.4" fill="#fff"/><rect x="758.5" y="1096.2" width="12.5" height="7.1" fill="#fff"/><rect x="724.5" y="1096.4" width="13" height="6.7" fill="#fff"/><rect x="725.3" y="1097.7" width="13.3" height="4.0" fill="#1173b9"/><text x="774.0" y="1114.1" textLength="138.0" lengthAdjust="spacingAndGlyphs" style="font-family:'Liberation Sans',sans-serif;font-weight:700;font-size:39.4px;fill:#1173b9;stroke:#1173b9;stroke-width:0.9">ECMWF</text></g>
<g id="c3s"><path d="M1168.4,1081.4C1164.2,1071.5 1156.2,1065.0 1146.2,1065.0C1132.7,1065.0 1122.6,1077.0 1122.6,1091.3C1122.6,1106.0 1132.7,1117.6 1146.2,1117.6C1149.7,1117.6 1152.7,1116.8 1155.0,1115.4C1152.2,1115.6 1149.2,1114.8 1146.2,1113.8C1135.7,1111.0 1128.4,1102.5 1128.4,1090.5C1128.4,1078.0 1136.7,1069.1 1148.7,1069.1C1157.7,1069.1 1164.5,1074.5 1168.4,1081.4Z" fill="#8c1b3f"/><path d="M1131.6,1091.4C1132.4,1089.2 1134.0,1087.6 1136.0,1087.2C1136.2,1084.6 1136.8,1083.2 1137.8,1082.4C1139.0,1080.6 1141.4,1080.0 1143.4,1080.8C1144.8,1081.4 1146.0,1082.2 1146.8,1083.2C1147.8,1079.6 1150.4,1077.6 1153.6,1077.6C1157.6,1077.6 1160.4,1079.8 1161.2,1082.6C1161.8,1084.2 1162.2,1085.8 1162.3,1087.2C1163.6,1087.4 1164.6,1088.2 1165.2,1089.0C1166.4,1090.0 1167.2,1091.2 1167.6,1092.5" fill="none" stroke="#8c1b3f" stroke-width="1.15" stroke-linecap="round"/><path d="M1151.3,1086.8a2.5,2.5 0 0 1 5.0,0V1095.9a4.6,4.6 0 1 1 -5.0,0Z" fill="none" stroke="#8c1b3f" stroke-width="0.95"/><circle cx="1153.8" cy="1099.8" r="2.3" fill="#8c1b3f"/><rect x="1153.1" y="1087.2" width="1.4" height="12" fill="#8c1b3f"/><text x="1173.4" y="1088.6" textLength="30.8" lengthAdjust="spacingAndGlyphs" style="font-family:'Liberation Sans',sans-serif;font-size:8.6px;fill:#7c3a56">Climate</text><text x="1173.4" y="1099.5" textLength="64.6" lengthAdjust="spacingAndGlyphs" style="font-family:'Liberation Sans',sans-serif;font-size:8.6px;fill:#7c3a56">Change Service</text><text x="1173.4" y="1117.6" textLength="80.2" lengthAdjust="spacingAndGlyphs" style="font-family:'Liberation Sans',sans-serif;font-size:8.2px;fill:#8a8a8a">climate.copernicus.eu</text></g>
</svg>
</body></html>
